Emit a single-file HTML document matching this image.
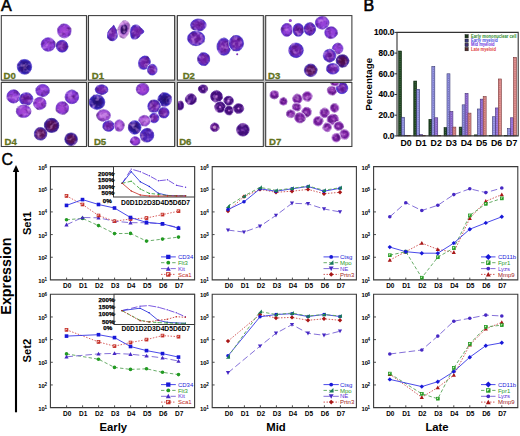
<!DOCTYPE html><html><head><meta charset="utf-8"><style>html,body{margin:0;padding:0;background:#fff;}svg{display:block;}text{font-family:"Liberation Sans",sans-serif;}</style></head><body>
<svg width="520" height="436" viewBox="0 0 520 436">
<rect width="520" height="436" fill="#fff"/>
<defs>
<radialGradient id="g_navy" cx="50%" cy="50%" r="50%">
<stop offset="0" stop-color="#240e68"/>
<stop offset="0.5" stop-color="#2a168a"/>
<stop offset="0.8" stop-color="#3020a6"/>
<stop offset="1" stop-color="#4232c4"/>
</radialGradient>
<radialGradient id="g_blue" cx="50%" cy="50%" r="50%">
<stop offset="0" stop-color="#4a1ca8"/>
<stop offset="0.6" stop-color="#4e24bc"/>
<stop offset="1" stop-color="#4a2ac4"/>
</radialGradient>
<radialGradient id="g_violet" cx="50%" cy="50%" r="50%">
<stop offset="0" stop-color="#6a1c9e"/>
<stop offset="0.55" stop-color="#7428b2"/>
<stop offset="0.85" stop-color="#5e2abe"/>
<stop offset="1" stop-color="#4a2cc6"/>
</radialGradient>
<radialGradient id="g_purple" cx="50%" cy="50%" r="50%">
<stop offset="0" stop-color="#9c44da"/>
<stop offset="0.6" stop-color="#9040d8"/>
<stop offset="0.85" stop-color="#7a34d0"/>
<stop offset="1" stop-color="#6a30cc"/>
</radialGradient>
<radialGradient id="g_magenta" cx="50%" cy="50%" r="50%">
<stop offset="0" stop-color="#a848d6"/>
<stop offset="0.6" stop-color="#9a3ed4"/>
<stop offset="0.85" stop-color="#8436cc"/>
<stop offset="1" stop-color="#7a3ac8"/>
</radialGradient>
<radialGradient id="g_pink" cx="50%" cy="50%" r="50%">
<stop offset="0" stop-color="#c888e6"/>
<stop offset="0.5" stop-color="#b462dc"/>
<stop offset="0.85" stop-color="#9848d0"/>
<stop offset="1" stop-color="#9a60d4"/>
</radialGradient>
<radialGradient id="g_maroon" cx="50%" cy="50%" r="50%">
<stop offset="0" stop-color="#4a0c40"/>
<stop offset="0.55" stop-color="#56125a"/>
<stop offset="0.85" stop-color="#40188a"/>
<stop offset="1" stop-color="#3a28b0"/>
</radialGradient>
<radialGradient id="g_dmaroon" cx="50%" cy="50%" r="50%">
<stop offset="0" stop-color="#5a1450"/>
<stop offset="0.6" stop-color="#5e1862"/>
<stop offset="0.88" stop-color="#4a2094"/>
<stop offset="1" stop-color="#4a38b8"/>
</radialGradient>
<radialGradient id="g_ring" cx="50%" cy="50%" r="50%">
<stop offset="0" stop-color="#e8b0ea"/>
<stop offset="0.14" stop-color="#b060d0"/>
<stop offset="0.32" stop-color="#4a1080"/>
<stop offset="0.8" stop-color="#420e7c"/>
<stop offset="1" stop-color="#5a2098"/>
</radialGradient>
<radialGradient id="g_dpurple" cx="50%" cy="50%" r="50%">
<stop offset="0" stop-color="#6a2aa8"/>
<stop offset="0.4" stop-color="#4a1286"/>
<stop offset="0.85" stop-color="#3e0e78"/>
<stop offset="1" stop-color="#5a2298"/>
</radialGradient>
<radialGradient id="g_donut" cx="50%" cy="50%" r="50%">
<stop offset="0" stop-color="#f4d8f4"/>
<stop offset="0.3" stop-color="#e0a0e0"/>
<stop offset="0.5" stop-color="#6a1890"/>
<stop offset="0.85" stop-color="#4a1080"/>
<stop offset="1" stop-color="#8040b0"/>
</radialGradient>
<radialGradient id="g_d7" cx="50%" cy="50%" r="50%">
<stop offset="0" stop-color="#b868d0"/>
<stop offset="0.25" stop-color="#8e2cac"/>
<stop offset="0.65" stop-color="#6c1a98"/>
<stop offset="0.88" stop-color="#8a34ac"/>
<stop offset="1" stop-color="#b878d4"/>
</radialGradient>
<radialGradient id="g_ring2" cx="50%" cy="50%" r="50%">
<stop offset="0" stop-color="#d89ee2"/>
<stop offset="0.3" stop-color="#9a40b8"/>
<stop offset="0.6" stop-color="#7a2098"/>
<stop offset="0.88" stop-color="#8a3aac"/>
<stop offset="1" stop-color="#b070cc"/>
</radialGradient>
<radialGradient id="g_palepk" cx="50%" cy="50%" r="50%">
<stop offset="0" stop-color="#2a0a50"/>
<stop offset="0.5" stop-color="#381270"/>
<stop offset="0.62" stop-color="#9a58c4"/>
<stop offset="0.78" stop-color="#d090e0"/>
<stop offset="1" stop-color="#d8a8ea"/>
</radialGradient>
<filter id="tex" x="0" y="0" width="1" height="1" color-interpolation-filters="sRGB"><feTurbulence type="fractalNoise" baseFrequency="0.22" numOctaves="2" seed="7" result="n"/><feColorMatrix in="n" type="matrix" values="0 0 0 0 0.92  0 0 0 0 0.70  0 0 0 0 0.98  1.6 0 0 0 -0.78" result="lt"/><feColorMatrix in="n" type="matrix" values="0 0 0 0 0.25  0 0 0 0 0.03  0 0 0 0 0.40  0 1.6 0 0 -0.78" result="dk"/><feComposite in="lt" in2="SourceAlpha" operator="in" result="lt2"/><feComposite in="dk" in2="SourceAlpha" operator="in" result="dk2"/><feMerge><feMergeNode in="SourceGraphic"/><feMergeNode in="dk2"/><feMergeNode in="lt2"/></feMerge></filter>
</defs>
<text x="1.0" y="11" font-size="16" stroke="#000" stroke-width="0.6" font-family="Liberation Sans, sans-serif">A</text>
<rect x="1.3" y="15.6" width="350.6" height="130.9" fill="#c4c4c4"/>
<svg x="1.3" y="15.6" width="85.15" height="64.5" viewBox="1.3 15.6 85.15 64.5" overflow="hidden">
<rect x="1.3" y="15.6" width="85.15" height="64.5" fill="#fff"/>
<g filter="url(#tex)">
<ellipse cx="24.5" cy="66.8" rx="7.95" ry="8.15" fill="#fbf8ff"/>
<ellipse cx="24.5" cy="66.8" rx="7.15" ry="7.35" fill="url(#g_navy)" stroke="#3a2cc8" stroke-width="0.8" stroke-opacity="0.85"/>
<ellipse cx="48.2" cy="44.5" rx="7.75" ry="7.55" fill="#fbf8ff"/>
<ellipse cx="48.2" cy="44.5" rx="6.95" ry="6.75" fill="url(#g_purple)" stroke="#5a2cc4" stroke-width="0.8" stroke-opacity="0.85"/>
<ellipse cx="62.1" cy="46.2" rx="6.55" ry="6.75" fill="#fbf8ff"/>
<ellipse cx="62.1" cy="46.2" rx="5.75" ry="5.95" fill="url(#g_violet)" stroke="#3e2ccc" stroke-width="0.8" stroke-opacity="0.85"/>
<ellipse cx="64.3" cy="30.9" rx="7.55" ry="7.75" fill="#fbf8ff"/>
<ellipse cx="64.3" cy="30.9" rx="6.75" ry="6.95" fill="url(#g_magenta)" stroke="#6e34c8" stroke-width="0.8" stroke-opacity="0.85"/>
</g>
</svg>
<rect x="1.3" y="15.6" width="85.15" height="64.5" fill="none" stroke="#3c3c3c" stroke-width="1.05"/>
<text x="3.6" y="78.7" font-size="9.6" font-weight="bold" fill="#62721c" stroke="#62721c" stroke-width="0.3" font-family="Liberation Sans, sans-serif">D0</text>
<svg x="88.5" y="15.6" width="86.1" height="64.5" viewBox="88.5 15.6 86.1 64.5" overflow="hidden">
<rect x="88.5" y="15.6" width="86.1" height="64.5" fill="#fff"/>
<g filter="url(#tex)">
<path d="M113.7 25.3 C116 29 117.6 32 117.4 35.5 C117.1 39.5 114.2 40.9 112.1 40.7 C109 40.4 107.1 38 107.2 35 C107.4 31.5 111 28 113.7 25.3 Z" fill="#fbf8ff" stroke="#fbf8ff" stroke-width="1.1"/>
<path d="M113.7 25.3 C116 29 117.6 32 117.4 35.5 C117.1 39.5 114.2 40.9 112.1 40.7 C109 40.4 107.1 38 107.2 35 C107.4 31.5 111 28 113.7 25.3 Z" fill="url(#g_violet)" stroke="#3e2ccc" stroke-width="0.8" stroke-opacity="0.85"/>
<ellipse cx="124.0" cy="29.3" rx="6.55" ry="9.450000000000001" fill="#fbf8ff" transform="rotate(12 124.0 29.3)"/>
<ellipse cx="124.0" cy="29.3" rx="5.75" ry="8.65" fill="url(#g_palepk)" stroke="#c898e0" stroke-width="0.8" stroke-opacity="0.85" transform="rotate(12 124.0 29.3)"/>
<path d="M131 28 C133 24.3 138 24 140 27 C141.2 29 143.8 29.4 143.8 31.6 C143.8 33.6 141.2 33.6 140.2 35.2 C139 38.6 134 39.8 132 38.6 C130.3 37 130.3 31 131 28 Z" fill="#fbf8ff" stroke="#fbf8ff" stroke-width="1.1"/>
<path d="M131 28 C133 24.3 138 24 140 27 C141.2 29 143.8 29.4 143.8 31.6 C143.8 33.6 141.2 33.6 140.2 35.2 C139 38.6 134 39.8 132 38.6 C130.3 37 130.3 31 131 28 Z" fill="url(#g_violet)" stroke="#3e2ccc" stroke-width="0.8" stroke-opacity="0.85"/>
<ellipse cx="144.4" cy="62.7" rx="6.55" ry="7.55" fill="#fbf8ff" transform="rotate(20 144.4 62.7)"/>
<ellipse cx="144.4" cy="62.7" rx="5.75" ry="6.75" fill="url(#g_violet)" stroke="#3e2ccc" stroke-width="0.8" stroke-opacity="0.85" transform="rotate(20 144.4 62.7)"/>
<ellipse cx="152.3" cy="69.7" rx="5.55" ry="6.1499999999999995" fill="#fbf8ff"/>
<ellipse cx="152.3" cy="69.7" rx="4.75" ry="5.35" fill="url(#g_violet)" stroke="#3e2ccc" stroke-width="0.8" stroke-opacity="0.85"/>
</g>
</svg>
<rect x="88.5" y="15.6" width="86.1" height="64.5" fill="none" stroke="#3c3c3c" stroke-width="1.05"/>
<text x="91.80000000000001" y="78.7" font-size="9.6" font-weight="bold" fill="#62721c" stroke="#62721c" stroke-width="0.3" font-family="Liberation Sans, sans-serif">D1</text>
<svg x="177.4" y="15.6" width="85.9" height="64.5" viewBox="177.4 15.6 85.9 64.5" overflow="hidden">
<rect x="177.4" y="15.6" width="85.9" height="64.5" fill="#fff"/>
<g filter="url(#tex)">
<ellipse cx="198.4" cy="25.0" rx="8.55" ry="6.75" fill="#fbf8ff"/>
<ellipse cx="198.4" cy="25.0" rx="7.75" ry="5.95" fill="url(#g_violet)" stroke="#3e2ccc" stroke-width="0.8" stroke-opacity="0.85"/>
<ellipse cx="196.1" cy="38.4" rx="9.350000000000001" ry="7.95" fill="#fbf8ff"/>
<ellipse cx="196.1" cy="38.4" rx="8.55" ry="7.15" fill="url(#g_violet)" stroke="#3e2ccc" stroke-width="0.8" stroke-opacity="0.85"/>
<ellipse cx="203.7" cy="59.1" rx="6.75" ry="7.25" fill="#fbf8ff"/>
<ellipse cx="203.7" cy="59.1" rx="5.95" ry="6.45" fill="url(#g_violet)" stroke="#3e2ccc" stroke-width="0.8" stroke-opacity="0.85"/>
<ellipse cx="223.9" cy="46.7" rx="7.55" ry="9.350000000000001" fill="#fbf8ff"/>
<ellipse cx="223.9" cy="46.7" rx="6.75" ry="8.55" fill="url(#g_violet)" stroke="#3e2ccc" stroke-width="0.8" stroke-opacity="0.85"/>
<ellipse cx="236.3" cy="43.2" rx="7.95" ry="8.55" fill="#fbf8ff"/>
<ellipse cx="236.3" cy="43.2" rx="7.15" ry="7.75" fill="url(#g_violet)" stroke="#3e2ccc" stroke-width="0.8" stroke-opacity="0.85"/>
<ellipse cx="237.2" cy="54.3" rx="1.0" ry="1.0" fill="url(#g_magenta)"/>
</g>
</svg>
<rect x="177.4" y="15.6" width="85.9" height="64.5" fill="none" stroke="#3c3c3c" stroke-width="1.05"/>
<text x="182.70000000000002" y="78.6" font-size="9.6" font-weight="bold" fill="#62721c" stroke="#62721c" stroke-width="0.3" font-family="Liberation Sans, sans-serif">D2</text>
<svg x="265.7" y="15.6" width="86.19999999999999" height="64.5" viewBox="265.7 15.6 86.19999999999999 64.5" overflow="hidden">
<rect x="265.7" y="15.6" width="86.19999999999999" height="64.5" fill="#fff"/>
<g filter="url(#tex)">
<ellipse cx="286.8" cy="29.9" rx="6.35" ry="7.25" fill="#fbf8ff"/>
<ellipse cx="286.8" cy="29.9" rx="5.55" ry="6.45" fill="url(#g_purple)" stroke="#5a2cc4" stroke-width="0.8" stroke-opacity="0.85"/>
<ellipse cx="298.3" cy="29.9" rx="6.1499999999999995" ry="7.25" fill="#fbf8ff"/>
<ellipse cx="298.3" cy="29.9" rx="5.35" ry="6.45" fill="url(#g_violet)" stroke="#3e2ccc" stroke-width="0.8" stroke-opacity="0.85"/>
<ellipse cx="309.8" cy="29.0" rx="6.55" ry="7.05" fill="#fbf8ff"/>
<ellipse cx="309.8" cy="29.0" rx="5.75" ry="6.25" fill="url(#g_violet)" stroke="#3e2ccc" stroke-width="0.8" stroke-opacity="0.85"/>
<ellipse cx="322.2" cy="22.8" rx="7.55" ry="7.05" fill="#fbf8ff"/>
<ellipse cx="322.2" cy="22.8" rx="6.75" ry="6.25" fill="url(#g_purple)" stroke="#5a2cc4" stroke-width="0.8" stroke-opacity="0.85"/>
<ellipse cx="331.0" cy="32.6" rx="7.05" ry="6.55" fill="#fbf8ff"/>
<ellipse cx="331.0" cy="32.6" rx="6.25" ry="5.75" fill="url(#g_purple)" stroke="#5a2cc4" stroke-width="0.8" stroke-opacity="0.85"/>
<ellipse cx="296.0" cy="50.3" rx="8.05" ry="8.05" fill="#fbf8ff"/>
<ellipse cx="296.0" cy="50.3" rx="7.25" ry="7.25" fill="url(#g_violet)" stroke="#3e2ccc" stroke-width="0.8" stroke-opacity="0.85"/>
<ellipse cx="337.7" cy="48.5" rx="6.05" ry="6.05" fill="#fbf8ff"/>
<ellipse cx="337.7" cy="48.5" rx="5.25" ry="5.25" fill="url(#g_purple)" stroke="#5a2cc4" stroke-width="0.8" stroke-opacity="0.85"/>
<ellipse cx="329.6" cy="55.6" rx="7.05" ry="7.05" fill="#fbf8ff"/>
<ellipse cx="329.6" cy="55.6" rx="6.25" ry="6.25" fill="url(#g_violet)" stroke="#3e2ccc" stroke-width="0.8" stroke-opacity="0.85"/>
<ellipse cx="342.5" cy="60.9" rx="7.05" ry="7.05" fill="#fbf8ff"/>
<ellipse cx="342.5" cy="60.9" rx="6.25" ry="6.25" fill="url(#g_maroon)" stroke="#30208e" stroke-width="0.8" stroke-opacity="0.85"/>
<ellipse cx="332.8" cy="68.8" rx="7.05" ry="6.05" fill="#fbf8ff"/>
<ellipse cx="332.8" cy="68.8" rx="6.25" ry="5.25" fill="url(#g_violet)" stroke="#3e2ccc" stroke-width="0.8" stroke-opacity="0.85"/>
<ellipse cx="310.7" cy="70.3" rx="7.05" ry="7.05" fill="#fbf8ff"/>
<ellipse cx="310.7" cy="70.3" rx="6.25" ry="6.25" fill="url(#g_dmaroon)" stroke="#3a26a8" stroke-width="0.8" stroke-opacity="0.85"/>
<ellipse cx="290.3" cy="20.5" rx="1.5" ry="1.5" fill="url(#g_magenta)"/>
</g>
</svg>
<rect x="265.7" y="15.6" width="86.19999999999999" height="64.5" fill="none" stroke="#3c3c3c" stroke-width="1.05"/>
<text x="268.09999999999997" y="78.6" font-size="9.6" font-weight="bold" fill="#62721c" stroke="#62721c" stroke-width="0.3" font-family="Liberation Sans, sans-serif">D3</text>
<svg x="1.3" y="82.5" width="85.15" height="64.0" viewBox="1.3 82.5 85.15 64.0" overflow="hidden">
<rect x="1.3" y="82.5" width="85.15" height="64.0" fill="#fff"/>
<g filter="url(#tex)">
<ellipse cx="13.5" cy="96.4" rx="7.35" ry="7.35" fill="#fbf8ff"/>
<ellipse cx="13.5" cy="96.4" rx="6.55" ry="6.55" fill="url(#g_purple)" stroke="#5a2cc4" stroke-width="0.8" stroke-opacity="0.85"/>
<ellipse cx="26.2" cy="99.0" rx="7.55" ry="7.05" fill="#fbf8ff"/>
<ellipse cx="26.2" cy="99.0" rx="6.75" ry="6.25" fill="url(#g_violet)" stroke="#3e2ccc" stroke-width="0.8" stroke-opacity="0.85"/>
<ellipse cx="23.7" cy="111.3" rx="8.05" ry="7.05" fill="#fbf8ff"/>
<ellipse cx="23.7" cy="111.3" rx="7.25" ry="6.25" fill="url(#g_magenta)" stroke="#6e34c8" stroke-width="0.8" stroke-opacity="0.85"/>
<ellipse cx="42.6" cy="90.5" rx="7.55" ry="6.85" fill="#fbf8ff"/>
<ellipse cx="42.6" cy="90.5" rx="6.75" ry="6.05" fill="url(#g_purple)" stroke="#5a2cc4" stroke-width="0.8" stroke-opacity="0.85"/>
<ellipse cx="39.8" cy="103.4" rx="7.05" ry="6.85" fill="#fbf8ff"/>
<ellipse cx="39.8" cy="103.4" rx="6.25" ry="6.05" fill="url(#g_magenta)" stroke="#6e34c8" stroke-width="0.8" stroke-opacity="0.85"/>
<ellipse cx="71.9" cy="96.9" rx="7.55" ry="7.55" fill="#fbf8ff"/>
<ellipse cx="71.9" cy="96.9" rx="6.75" ry="6.75" fill="url(#g_purple)" stroke="#5a2cc4" stroke-width="0.8" stroke-opacity="0.85"/>
<ellipse cx="62.3" cy="107.9" rx="7.05" ry="7.05" fill="#fbf8ff"/>
<ellipse cx="62.3" cy="107.9" rx="6.25" ry="6.25" fill="url(#g_magenta)" stroke="#6e34c8" stroke-width="0.8" stroke-opacity="0.85"/>
<ellipse cx="51.6" cy="125.4" rx="8.05" ry="7.85" fill="#fbf8ff"/>
<ellipse cx="51.6" cy="125.4" rx="7.25" ry="7.05" fill="url(#g_maroon)" stroke="#30208e" stroke-width="0.8" stroke-opacity="0.85"/>
<ellipse cx="40.6" cy="133.8" rx="7.05" ry="7.05" fill="#fbf8ff"/>
<ellipse cx="40.6" cy="133.8" rx="6.25" ry="6.25" fill="url(#g_dmaroon)" stroke="#3a26a8" stroke-width="0.8" stroke-opacity="0.85"/>
<ellipse cx="71.1" cy="139.2" rx="7.05" ry="7.05" fill="#fbf8ff"/>
<ellipse cx="71.1" cy="139.2" rx="6.25" ry="6.25" fill="url(#g_maroon)" stroke="#30208e" stroke-width="0.8" stroke-opacity="0.85"/>
</g>
</svg>
<rect x="1.3" y="82.5" width="85.15" height="64.0" fill="none" stroke="#3c3c3c" stroke-width="1.05"/>
<text x="4.5" y="144.8" font-size="9.6" font-weight="bold" fill="#62721c" stroke="#62721c" stroke-width="0.3" font-family="Liberation Sans, sans-serif">D4</text>
<svg x="88.5" y="82.5" width="86.1" height="64.0" viewBox="88.5 82.5 86.1 64.0" overflow="hidden">
<rect x="88.5" y="82.5" width="86.1" height="64.0" fill="#fff"/>
<g filter="url(#tex)">
<ellipse cx="101.6" cy="89.7" rx="7.05" ry="5.55" fill="#fbf8ff"/>
<ellipse cx="101.6" cy="89.7" rx="6.25" ry="4.75" fill="url(#g_violet)" stroke="#3e2ccc" stroke-width="0.8" stroke-opacity="0.85"/>
<ellipse cx="97.0" cy="102.1" rx="8.55" ry="8.05" fill="#fbf8ff"/>
<ellipse cx="97.0" cy="102.1" rx="7.75" ry="7.25" fill="url(#g_navy)" stroke="#3a2cc8" stroke-width="0.8" stroke-opacity="0.85"/>
<ellipse cx="103.7" cy="115.4" rx="7.55" ry="6.55" fill="#fbf8ff"/>
<ellipse cx="103.7" cy="115.4" rx="6.75" ry="5.75" fill="url(#g_pink)" stroke="#8a50cc" stroke-width="0.8" stroke-opacity="0.85"/>
<ellipse cx="108.6" cy="126.0" rx="6.55" ry="6.05" fill="#fbf8ff"/>
<ellipse cx="108.6" cy="126.0" rx="5.75" ry="5.25" fill="url(#g_violet)" stroke="#3e2ccc" stroke-width="0.8" stroke-opacity="0.85"/>
<ellipse cx="119.3" cy="125.6" rx="5.55" ry="6.55" fill="#fbf8ff"/>
<ellipse cx="119.3" cy="125.6" rx="4.75" ry="5.75" fill="url(#g_pink)" stroke="#8a50cc" stroke-width="0.8" stroke-opacity="0.85"/>
<ellipse cx="142.6" cy="89.2" rx="7.05" ry="6.55" fill="#fbf8ff"/>
<ellipse cx="142.6" cy="89.2" rx="6.25" ry="5.75" fill="url(#g_magenta)" stroke="#6e34c8" stroke-width="0.8" stroke-opacity="0.85"/>
<ellipse cx="164.7" cy="99.5" rx="7.55" ry="7.55" fill="#fbf8ff"/>
<ellipse cx="164.7" cy="99.5" rx="6.75" ry="6.75" fill="url(#g_navy)" stroke="#3a2cc8" stroke-width="0.8" stroke-opacity="0.85"/>
<ellipse cx="154.1" cy="106.2" rx="7.05" ry="7.05" fill="#fbf8ff"/>
<ellipse cx="154.1" cy="106.2" rx="6.25" ry="6.25" fill="url(#g_violet)" stroke="#3e2ccc" stroke-width="0.8" stroke-opacity="0.85"/>
<ellipse cx="163.8" cy="112.7" rx="6.05" ry="6.05" fill="#fbf8ff"/>
<ellipse cx="163.8" cy="112.7" rx="5.25" ry="5.25" fill="url(#g_violet)" stroke="#3e2ccc" stroke-width="0.8" stroke-opacity="0.85"/>
<ellipse cx="154.1" cy="118.0" rx="5.55" ry="5.55" fill="#fbf8ff"/>
<ellipse cx="154.1" cy="118.0" rx="4.75" ry="4.75" fill="url(#g_violet)" stroke="#3e2ccc" stroke-width="0.8" stroke-opacity="0.85"/>
<ellipse cx="144.4" cy="120.7" rx="6.55" ry="6.05" fill="#fbf8ff"/>
<ellipse cx="144.4" cy="120.7" rx="5.75" ry="5.25" fill="url(#g_pink)" stroke="#8a50cc" stroke-width="0.8" stroke-opacity="0.85"/>
<ellipse cx="134.7" cy="127.4" rx="7.05" ry="7.55" fill="#fbf8ff"/>
<ellipse cx="134.7" cy="127.4" rx="6.25" ry="6.75" fill="url(#g_navy)" stroke="#3a2cc8" stroke-width="0.8" stroke-opacity="0.85"/>
<ellipse cx="147.0" cy="135.2" rx="7.55" ry="7.55" fill="#fbf8ff"/>
<ellipse cx="147.0" cy="135.2" rx="6.75" ry="6.75" fill="url(#g_blue)" stroke="#4030c8" stroke-width="0.8" stroke-opacity="0.85"/>
<ellipse cx="135.2" cy="141.0" rx="5.55" ry="5.05" fill="#fbf8ff"/>
<ellipse cx="135.2" cy="141.0" rx="4.75" ry="4.25" fill="url(#g_magenta)" stroke="#6e34c8" stroke-width="0.8" stroke-opacity="0.85"/>
</g>
</svg>
<rect x="88.5" y="82.5" width="86.1" height="64.0" fill="none" stroke="#3c3c3c" stroke-width="1.05"/>
<text x="93.9" y="145.2" font-size="9.6" font-weight="bold" fill="#62721c" stroke="#62721c" stroke-width="0.3" font-family="Liberation Sans, sans-serif">D5</text>
<svg x="177.4" y="82.5" width="85.9" height="64.0" viewBox="177.4 82.5 85.9 64.0" overflow="hidden">
<rect x="177.4" y="82.5" width="85.9" height="64.0" fill="#fff"/>
<g filter="url(#tex)">
<ellipse cx="203.0" cy="89.0" rx="5.25" ry="4.85" fill="#fbf8ff"/>
<ellipse cx="203.0" cy="89.0" rx="4.45" ry="4.05" fill="url(#g_ring)" stroke="#4a1890" stroke-width="0.8" stroke-opacity="0.85"/>
<ellipse cx="190.9" cy="99.2" rx="6.25" ry="6.05" fill="#fbf8ff" transform="rotate(-20 190.9 99.2)"/>
<ellipse cx="190.9" cy="99.2" rx="5.45" ry="5.25" fill="url(#g_dpurple)" stroke="#4a1890" stroke-width="0.8" stroke-opacity="0.85" transform="rotate(-20 190.9 99.2)"/>
<ellipse cx="180.3" cy="105.6" rx="4.05" ry="5.05" fill="#fbf8ff"/>
<ellipse cx="180.3" cy="105.6" rx="3.25" ry="4.25" fill="url(#g_dpurple)" stroke="#4a1890" stroke-width="0.8" stroke-opacity="0.85"/>
<ellipse cx="216.5" cy="96.4" rx="6.6499999999999995" ry="6.55" fill="#fbf8ff"/>
<ellipse cx="216.5" cy="96.4" rx="5.85" ry="5.75" fill="url(#g_ring)" stroke="#4a1890" stroke-width="0.8" stroke-opacity="0.85"/>
<ellipse cx="228.6" cy="100.7" rx="5.55" ry="5.25" fill="#fbf8ff"/>
<ellipse cx="228.6" cy="100.7" rx="4.75" ry="4.45" fill="url(#g_ring)" stroke="#4a1890" stroke-width="0.8" stroke-opacity="0.85"/>
<ellipse cx="220.1" cy="107.1" rx="6.05" ry="6.05" fill="#fbf8ff"/>
<ellipse cx="220.1" cy="107.1" rx="5.25" ry="5.25" fill="url(#g_ring)" stroke="#4a1890" stroke-width="0.8" stroke-opacity="0.85"/>
<ellipse cx="228.9" cy="110.6" rx="5.05" ry="5.05" fill="#fbf8ff"/>
<ellipse cx="228.9" cy="110.6" rx="4.25" ry="4.25" fill="url(#g_ring)" stroke="#4a1890" stroke-width="0.8" stroke-opacity="0.85"/>
<ellipse cx="238.6" cy="108.5" rx="5.85" ry="5.55" fill="#fbf8ff"/>
<ellipse cx="238.6" cy="108.5" rx="5.05" ry="4.75" fill="url(#g_ring)" stroke="#4a1890" stroke-width="0.8" stroke-opacity="0.85"/>
<ellipse cx="214.7" cy="127.3" rx="5.05" ry="5.05" fill="#fbf8ff"/>
<ellipse cx="214.7" cy="127.3" rx="4.25" ry="4.25" fill="url(#g_donut)" stroke="#5a2098" stroke-width="0.8" stroke-opacity="0.85"/>
<ellipse cx="242.9" cy="129.8" rx="7.05" ry="7.05" fill="#fbf8ff"/>
<ellipse cx="242.9" cy="129.8" rx="6.25" ry="6.25" fill="url(#g_dpurple)" stroke="#4a1890" stroke-width="0.8" stroke-opacity="0.85"/>
</g>
</svg>
<rect x="177.4" y="82.5" width="85.9" height="64.0" fill="none" stroke="#3c3c3c" stroke-width="1.05"/>
<text x="179.20000000000002" y="145.2" font-size="9.6" font-weight="bold" fill="#62721c" stroke="#62721c" stroke-width="0.3" font-family="Liberation Sans, sans-serif">D6</text>
<svg x="265.7" y="82.5" width="86.19999999999999" height="64.0" viewBox="265.7 82.5 86.19999999999999 64.0" overflow="hidden">
<rect x="265.7" y="82.5" width="86.19999999999999" height="64.0" fill="#fff"/>
<g filter="url(#tex)">
<ellipse cx="274.3" cy="94.7" rx="5.05" ry="4.75" fill="#fbf8ff"/>
<ellipse cx="274.3" cy="94.7" rx="4.25" ry="3.95" fill="url(#g_d7)" stroke="#a466c8" stroke-width="0.8" stroke-opacity="0.85"/>
<ellipse cx="283.4" cy="101.4" rx="4.55" ry="4.55" fill="#fbf8ff"/>
<ellipse cx="283.4" cy="101.4" rx="3.75" ry="3.75" fill="url(#g_d7)" stroke="#a466c8" stroke-width="0.8" stroke-opacity="0.85"/>
<ellipse cx="297.4" cy="98.9" rx="5.55" ry="5.55" fill="#fbf8ff"/>
<ellipse cx="297.4" cy="98.9" rx="4.75" ry="4.75" fill="url(#g_d7)" stroke="#a466c8" stroke-width="0.8" stroke-opacity="0.85"/>
<ellipse cx="307.3" cy="96.4" rx="5.55" ry="5.55" fill="#fbf8ff"/>
<ellipse cx="307.3" cy="96.4" rx="4.75" ry="4.75" fill="url(#g_d7)" stroke="#a466c8" stroke-width="0.8" stroke-opacity="0.85"/>
<ellipse cx="296.6" cy="107.1" rx="5.05" ry="4.55" fill="#fbf8ff"/>
<ellipse cx="296.6" cy="107.1" rx="4.25" ry="3.75" fill="url(#g_d7)" stroke="#a466c8" stroke-width="0.8" stroke-opacity="0.85"/>
<ellipse cx="290.8" cy="113.8" rx="5.05" ry="4.55" fill="#fbf8ff"/>
<ellipse cx="290.8" cy="113.8" rx="4.25" ry="3.75" fill="url(#g_d7)" stroke="#a466c8" stroke-width="0.8" stroke-opacity="0.85"/>
<ellipse cx="306.5" cy="112.1" rx="5.55" ry="5.55" fill="#fbf8ff"/>
<ellipse cx="306.5" cy="112.1" rx="4.75" ry="4.75" fill="url(#g_d7)" stroke="#a466c8" stroke-width="0.8" stroke-opacity="0.85"/>
<ellipse cx="299.9" cy="117.9" rx="6.05" ry="5.85" fill="#fbf8ff"/>
<ellipse cx="299.9" cy="117.9" rx="5.25" ry="5.05" fill="url(#g_d7)" stroke="#a466c8" stroke-width="0.8" stroke-opacity="0.85"/>
<ellipse cx="332.1" cy="90.6" rx="5.55" ry="5.25" fill="#fbf8ff"/>
<ellipse cx="332.1" cy="90.6" rx="4.75" ry="4.45" fill="url(#g_d7)" stroke="#a466c8" stroke-width="0.8" stroke-opacity="0.85"/>
<ellipse cx="342.0" cy="88.1" rx="6.55" ry="6.35" fill="#fbf8ff"/>
<ellipse cx="342.0" cy="88.1" rx="5.75" ry="5.55" fill="url(#g_violet)" stroke="#3e2ccc" stroke-width="0.8" stroke-opacity="0.85"/>
<ellipse cx="334.6" cy="108.0" rx="5.05" ry="5.05" fill="#fbf8ff"/>
<ellipse cx="334.6" cy="108.0" rx="4.25" ry="4.25" fill="url(#g_d7)" stroke="#a466c8" stroke-width="0.8" stroke-opacity="0.85"/>
<ellipse cx="324.7" cy="112.9" rx="5.55" ry="5.55" fill="#fbf8ff"/>
<ellipse cx="324.7" cy="112.9" rx="4.75" ry="4.75" fill="url(#g_d7)" stroke="#a466c8" stroke-width="0.8" stroke-opacity="0.85"/>
<ellipse cx="332.9" cy="119.5" rx="6.55" ry="6.05" fill="#fbf8ff"/>
<ellipse cx="332.9" cy="119.5" rx="5.75" ry="5.25" fill="url(#g_d7)" stroke="#a466c8" stroke-width="0.8" stroke-opacity="0.85"/>
<ellipse cx="318.1" cy="121.2" rx="5.55" ry="5.55" fill="#fbf8ff"/>
<ellipse cx="318.1" cy="121.2" rx="4.75" ry="4.75" fill="url(#g_d7)" stroke="#a466c8" stroke-width="0.8" stroke-opacity="0.85"/>
<ellipse cx="327.2" cy="127.3" rx="5.05" ry="5.05" fill="#fbf8ff"/>
<ellipse cx="327.2" cy="127.3" rx="4.25" ry="4.25" fill="url(#g_d7)" stroke="#a466c8" stroke-width="0.8" stroke-opacity="0.85"/>
<ellipse cx="338.7" cy="126.1" rx="5.55" ry="5.05" fill="#fbf8ff"/>
<ellipse cx="338.7" cy="126.1" rx="4.75" ry="4.25" fill="url(#g_d7)" stroke="#a466c8" stroke-width="0.8" stroke-opacity="0.85"/>
<ellipse cx="344.5" cy="134.4" rx="5.55" ry="5.55" fill="#fbf8ff"/>
<ellipse cx="344.5" cy="134.4" rx="4.75" ry="4.75" fill="url(#g_d7)" stroke="#a466c8" stroke-width="0.8" stroke-opacity="0.85"/>
<ellipse cx="336.2" cy="137.7" rx="5.05" ry="5.05" fill="#fbf8ff"/>
<ellipse cx="336.2" cy="137.7" rx="4.25" ry="4.25" fill="url(#g_d7)" stroke="#a466c8" stroke-width="0.8" stroke-opacity="0.85"/>
<ellipse cx="335.0" cy="83.5" rx="4.55" ry="3.05" fill="#fbf8ff"/>
<ellipse cx="335.0" cy="83.5" rx="3.75" ry="2.25" fill="url(#g_d7)" stroke="#a466c8" stroke-width="0.8" stroke-opacity="0.85"/>
</g>
</svg>
<rect x="265.7" y="82.5" width="86.19999999999999" height="64.0" fill="none" stroke="#3c3c3c" stroke-width="1.05"/>
<text x="269.0" y="145.2" font-size="9.6" font-weight="bold" fill="#62721c" stroke="#62721c" stroke-width="0.3" font-family="Liberation Sans, sans-serif">D7</text>
<text x="363.4" y="11.1" font-size="16" stroke="#000" stroke-width="0.6" font-family="Liberation Sans, sans-serif">B</text>
<rect x="398.60" y="51.03" width="2.95" height="84.87" fill="#1e4020" stroke="#0e2a12" stroke-width="0.6"/>
<line x1="400.08" y1="52.03" x2="400.08" y2="135.40" stroke="#5a8a5a" stroke-width="0.8" stroke-dasharray="0.7 1.1"/>
<rect x="401.55" y="117.27" width="2.95" height="18.63" fill="#9a9ae8" stroke="#34346e" stroke-width="0.6"/>
<line x1="403.03" y1="118.27" x2="403.03" y2="135.40" stroke="#34346e" stroke-width="0.9" stroke-dasharray="0.6 1.2" opacity="0.6"/>
<rect x="404.50" y="135.28" width="2.95" height="0.62" fill="#a07ae0" stroke="#3e2a70" stroke-width="0.6"/>
<rect x="407.45" y="135.59" width="2.95" height="0.31" fill="#e09090" stroke="#763232" stroke-width="0.6"/>
<rect x="413.75" y="81.05" width="2.95" height="54.85" fill="#1e4020" stroke="#0e2a12" stroke-width="0.6"/>
<line x1="415.23" y1="82.05" x2="415.23" y2="135.40" stroke="#5a8a5a" stroke-width="0.8" stroke-dasharray="0.7 1.1"/>
<rect x="416.70" y="89.33" width="2.95" height="46.57" fill="#9a9ae8" stroke="#34346e" stroke-width="0.6"/>
<line x1="418.18" y1="90.33" x2="418.18" y2="135.40" stroke="#34346e" stroke-width="0.9" stroke-dasharray="0.6 1.2" opacity="0.6"/>
<rect x="419.65" y="134.66" width="2.95" height="1.24" fill="#a07ae0" stroke="#3e2a70" stroke-width="0.6"/>
<rect x="422.60" y="135.49" width="2.95" height="0.41" fill="#e09090" stroke="#763232" stroke-width="0.6"/>
<rect x="428.90" y="119.34" width="2.95" height="16.56" fill="#1e4020" stroke="#0e2a12" stroke-width="0.6"/>
<line x1="430.38" y1="120.34" x2="430.38" y2="135.40" stroke="#5a8a5a" stroke-width="0.8" stroke-dasharray="0.7 1.1"/>
<rect x="431.85" y="66.56" width="2.95" height="69.34" fill="#9a9ae8" stroke="#34346e" stroke-width="0.6"/>
<line x1="433.33" y1="67.56" x2="433.33" y2="135.40" stroke="#34346e" stroke-width="0.9" stroke-dasharray="0.6 1.2" opacity="0.6"/>
<rect x="434.80" y="117.79" width="2.95" height="18.11" fill="#a07ae0" stroke="#3e2a70" stroke-width="0.6"/>
<line x1="436.28" y1="118.79" x2="436.28" y2="135.40" stroke="#3e2a70" stroke-width="0.9" stroke-dasharray="0.6 1.2" opacity="0.6"/>
<rect x="437.75" y="135.38" width="2.95" height="0.52" fill="#e09090" stroke="#763232" stroke-width="0.6"/>
<rect x="444.05" y="127.62" width="2.95" height="8.28" fill="#1e4020" stroke="#0e2a12" stroke-width="0.6"/>
<line x1="445.53" y1="128.62" x2="445.53" y2="135.40" stroke="#5a8a5a" stroke-width="0.8" stroke-dasharray="0.7 1.1"/>
<rect x="447.00" y="73.80" width="2.95" height="62.10" fill="#9a9ae8" stroke="#34346e" stroke-width="0.6"/>
<line x1="448.48" y1="74.80" x2="448.48" y2="135.40" stroke="#34346e" stroke-width="0.9" stroke-dasharray="0.6 1.2" opacity="0.6"/>
<rect x="449.95" y="111.58" width="2.95" height="24.32" fill="#a07ae0" stroke="#3e2a70" stroke-width="0.6"/>
<line x1="451.43" y1="112.58" x2="451.43" y2="135.40" stroke="#3e2a70" stroke-width="0.9" stroke-dasharray="0.6 1.2" opacity="0.6"/>
<rect x="452.90" y="127.10" width="2.95" height="8.80" fill="#e09090" stroke="#763232" stroke-width="0.6"/>
<line x1="454.38" y1="128.10" x2="454.38" y2="135.40" stroke="#763232" stroke-width="0.9" stroke-dasharray="0.6 1.2" opacity="0.6"/>
<rect x="459.20" y="127.10" width="2.95" height="8.80" fill="#1e4020" stroke="#0e2a12" stroke-width="0.6"/>
<line x1="460.68" y1="128.10" x2="460.68" y2="135.40" stroke="#5a8a5a" stroke-width="0.8" stroke-dasharray="0.7 1.1"/>
<rect x="462.15" y="104.85" width="2.95" height="31.05" fill="#9a9ae8" stroke="#34346e" stroke-width="0.6"/>
<line x1="463.63" y1="105.85" x2="463.63" y2="135.40" stroke="#34346e" stroke-width="0.9" stroke-dasharray="0.6 1.2" opacity="0.6"/>
<rect x="465.10" y="93.47" width="2.95" height="42.43" fill="#a07ae0" stroke="#3e2a70" stroke-width="0.6"/>
<line x1="466.58" y1="94.47" x2="466.58" y2="135.40" stroke="#3e2a70" stroke-width="0.9" stroke-dasharray="0.6 1.2" opacity="0.6"/>
<rect x="468.05" y="113.13" width="2.95" height="22.77" fill="#e09090" stroke="#763232" stroke-width="0.6"/>
<line x1="469.53" y1="114.13" x2="469.53" y2="135.40" stroke="#763232" stroke-width="0.9" stroke-dasharray="0.6 1.2" opacity="0.6"/>
<rect x="474.35" y="134.87" width="2.95" height="1.03" fill="#1e4020" stroke="#0e2a12" stroke-width="0.6"/>
<rect x="477.30" y="108.99" width="2.95" height="26.91" fill="#9a9ae8" stroke="#34346e" stroke-width="0.6"/>
<line x1="478.78" y1="109.99" x2="478.78" y2="135.40" stroke="#34346e" stroke-width="0.9" stroke-dasharray="0.6 1.2" opacity="0.6"/>
<rect x="480.25" y="99.16" width="2.95" height="36.74" fill="#a07ae0" stroke="#3e2a70" stroke-width="0.6"/>
<line x1="481.73" y1="100.16" x2="481.73" y2="135.40" stroke="#3e2a70" stroke-width="0.9" stroke-dasharray="0.6 1.2" opacity="0.6"/>
<rect x="483.20" y="96.57" width="2.95" height="39.33" fill="#e09090" stroke="#763232" stroke-width="0.6"/>
<line x1="484.68" y1="97.57" x2="484.68" y2="135.40" stroke="#763232" stroke-width="0.9" stroke-dasharray="0.6 1.2" opacity="0.6"/>
<rect x="489.50" y="135.38" width="2.95" height="0.52" fill="#1e4020" stroke="#0e2a12" stroke-width="0.6"/>
<rect x="492.45" y="116.75" width="2.95" height="19.15" fill="#9a9ae8" stroke="#34346e" stroke-width="0.6"/>
<line x1="493.93" y1="117.75" x2="493.93" y2="135.40" stroke="#34346e" stroke-width="0.9" stroke-dasharray="0.6 1.2" opacity="0.6"/>
<rect x="495.40" y="107.96" width="2.95" height="27.94" fill="#a07ae0" stroke="#3e2a70" stroke-width="0.6"/>
<line x1="496.88" y1="108.96" x2="496.88" y2="135.40" stroke="#3e2a70" stroke-width="0.9" stroke-dasharray="0.6 1.2" opacity="0.6"/>
<rect x="498.35" y="78.98" width="2.95" height="56.92" fill="#e09090" stroke="#763232" stroke-width="0.6"/>
<line x1="499.83" y1="79.98" x2="499.83" y2="135.40" stroke="#763232" stroke-width="0.9" stroke-dasharray="0.6 1.2" opacity="0.6"/>
<rect x="504.65" y="135.49" width="2.95" height="0.41" fill="#1e4020" stroke="#0e2a12" stroke-width="0.6"/>
<rect x="507.60" y="128.66" width="2.95" height="7.24" fill="#9a9ae8" stroke="#34346e" stroke-width="0.6"/>
<line x1="509.08" y1="129.66" x2="509.08" y2="135.40" stroke="#34346e" stroke-width="0.9" stroke-dasharray="0.6 1.2" opacity="0.6"/>
<rect x="510.55" y="117.79" width="2.95" height="18.11" fill="#a07ae0" stroke="#3e2a70" stroke-width="0.6"/>
<line x1="512.02" y1="118.79" x2="512.02" y2="135.40" stroke="#3e2a70" stroke-width="0.9" stroke-dasharray="0.6 1.2" opacity="0.6"/>
<rect x="513.50" y="57.45" width="2.95" height="78.45" fill="#e09090" stroke="#763232" stroke-width="0.6"/>
<line x1="514.98" y1="58.45" x2="514.98" y2="135.40" stroke="#763232" stroke-width="0.9" stroke-dasharray="0.6 1.2" opacity="0.6"/>
<path d="M397 32.4 H518.2 V135.9 H397 Z" fill="none" stroke="#333" stroke-width="1.1"/>
<line x1="394.5" y1="135.90" x2="397" y2="135.90" stroke="#333" stroke-width="1"/>
<text x="394.4" y="138.80" font-size="8.2" font-weight="bold" text-anchor="end" stroke="#000" stroke-width="0.15" font-family="Liberation Sans, sans-serif">0.0</text>
<line x1="394.5" y1="115.20" x2="397" y2="115.20" stroke="#333" stroke-width="1"/>
<text x="394.4" y="118.10" font-size="8.2" font-weight="bold" text-anchor="end" stroke="#000" stroke-width="0.15" font-family="Liberation Sans, sans-serif">20.0</text>
<line x1="394.5" y1="94.50" x2="397" y2="94.50" stroke="#333" stroke-width="1"/>
<text x="394.4" y="97.40" font-size="8.2" font-weight="bold" text-anchor="end" stroke="#000" stroke-width="0.15" font-family="Liberation Sans, sans-serif">40.0</text>
<line x1="394.5" y1="73.80" x2="397" y2="73.80" stroke="#333" stroke-width="1"/>
<text x="394.4" y="76.70" font-size="8.2" font-weight="bold" text-anchor="end" stroke="#000" stroke-width="0.15" font-family="Liberation Sans, sans-serif">60.0</text>
<line x1="394.5" y1="53.10" x2="397" y2="53.10" stroke="#333" stroke-width="1"/>
<text x="394.4" y="56.00" font-size="8.2" font-weight="bold" text-anchor="end" stroke="#000" stroke-width="0.15" font-family="Liberation Sans, sans-serif">80.0</text>
<line x1="394.5" y1="32.40" x2="397" y2="32.40" stroke="#333" stroke-width="1"/>
<text x="394.4" y="35.30" font-size="8.2" font-weight="bold" text-anchor="end" stroke="#000" stroke-width="0.15" font-family="Liberation Sans, sans-serif">100.0</text>
<text x="406.00" y="145.7" font-size="8.8" font-weight="bold" text-anchor="middle" font-family="Liberation Sans, sans-serif">D0</text>
<text x="421.10" y="145.7" font-size="8.8" font-weight="bold" text-anchor="middle" font-family="Liberation Sans, sans-serif">D1</text>
<text x="436.20" y="145.7" font-size="8.8" font-weight="bold" text-anchor="middle" font-family="Liberation Sans, sans-serif">D2</text>
<text x="451.30" y="145.7" font-size="8.8" font-weight="bold" text-anchor="middle" font-family="Liberation Sans, sans-serif">D3</text>
<text x="466.40" y="145.7" font-size="8.8" font-weight="bold" text-anchor="middle" font-family="Liberation Sans, sans-serif">D4</text>
<text x="481.50" y="145.7" font-size="8.8" font-weight="bold" text-anchor="middle" font-family="Liberation Sans, sans-serif">D5</text>
<text x="496.60" y="145.7" font-size="8.8" font-weight="bold" text-anchor="middle" font-family="Liberation Sans, sans-serif">D6</text>
<text x="511.70" y="145.7" font-size="8.8" font-weight="bold" text-anchor="middle" font-family="Liberation Sans, sans-serif">D7</text>
<text transform="translate(372.2 84.3) rotate(-90)" font-size="9.8" font-weight="bold" text-anchor="middle" font-family="Liberation Sans, sans-serif">Percentage</text>
<rect x="465.0" y="34.70" width="3.2" height="3.2" fill="#1a3a1a" stroke="#111" stroke-width="0.5"/>
<text x="471" y="37.80" font-size="4.5" font-weight="bold" fill="#2e8a2a" textLength="45.5" lengthAdjust="spacingAndGlyphs" font-family="Liberation Sans, sans-serif">Early mononuclear cell</text>
<rect x="465.0" y="39.00" width="3.2" height="3.2" fill="#3a3a80" stroke="#111" stroke-width="0.5"/>
<text x="471" y="42.10" font-size="4.5" font-weight="bold" fill="#4a4ae0" textLength="26.8" lengthAdjust="spacingAndGlyphs" font-family="Liberation Sans, sans-serif">Early myeloid</text>
<rect x="465.0" y="43.30" width="3.2" height="3.2" fill="#40307a" stroke="#111" stroke-width="0.5"/>
<text x="471" y="46.40" font-size="4.5" font-weight="bold" fill="#6a34e0" textLength="23.6" lengthAdjust="spacingAndGlyphs" font-family="Liberation Sans, sans-serif">Mid myeloid</text>
<rect x="465.0" y="47.60" width="3.2" height="3.2" fill="#5a2a2a" stroke="#111" stroke-width="0.5"/>
<text x="471" y="50.70" font-size="4.5" font-weight="bold" fill="#e03a3a" textLength="25" lengthAdjust="spacingAndGlyphs" font-family="Liberation Sans, sans-serif">Late myeloid</text>
<text x="1.6" y="164.8" font-size="16" stroke="#000" stroke-width="0.4" font-family="Liberation Sans, sans-serif">C</text>
<line x1="16" y1="170" x2="16" y2="412.3" stroke="#000" stroke-width="2.1"/>
<path d="M16 165 L19.2 172 L12.8 172 Z" fill="#000"/>
<text transform="translate(11.4 276.1) rotate(-90) scale(0.935 1)" font-size="15.3" font-weight="bold" text-anchor="middle" font-family="Liberation Sans, sans-serif">Expression</text>
<text transform="translate(31.2 223.3) rotate(-90)" font-size="11.2" font-weight="bold" text-anchor="middle" font-family="Liberation Sans, sans-serif">Set1</text>
<text transform="translate(30.8 350.6) rotate(-90)" font-size="11.2" font-weight="bold" text-anchor="middle" font-family="Liberation Sans, sans-serif">Set2</text>
<text x="113.3" y="430.6" font-size="11.3" font-weight="bold" text-anchor="middle" font-family="Liberation Sans, sans-serif">Early</text>
<text x="276" y="430.6" font-size="11.3" font-weight="bold" text-anchor="middle" font-family="Liberation Sans, sans-serif">Mid</text>
<text x="437" y="430.6" font-size="11.3" font-weight="bold" text-anchor="middle" font-family="Liberation Sans, sans-serif">Late</text>
<path d="M50.40 166.60 H194.60 V279.90 H50.40 Z" fill="none" stroke="#3a3a3a" stroke-width="1.1"/>
<text x="44.80" y="282.90" font-size="5.9" font-weight="bold" text-anchor="end" font-family="Liberation Sans, sans-serif">10</text>
<text x="44.40" y="281.40" font-size="4.5" font-weight="bold" font-family="Liberation Sans, sans-serif">1</text>
<line x1="50.40" y1="257.24" x2="52.80" y2="257.24" stroke="#3a3a3a" stroke-width="0.9"/>
<text x="44.80" y="260.24" font-size="5.9" font-weight="bold" text-anchor="end" font-family="Liberation Sans, sans-serif">10</text>
<text x="44.40" y="258.74" font-size="4.5" font-weight="bold" font-family="Liberation Sans, sans-serif">2</text>
<line x1="50.40" y1="234.58" x2="52.80" y2="234.58" stroke="#3a3a3a" stroke-width="0.9"/>
<text x="44.80" y="237.58" font-size="5.9" font-weight="bold" text-anchor="end" font-family="Liberation Sans, sans-serif">10</text>
<text x="44.40" y="236.08" font-size="4.5" font-weight="bold" font-family="Liberation Sans, sans-serif">3</text>
<line x1="50.40" y1="211.92" x2="52.80" y2="211.92" stroke="#3a3a3a" stroke-width="0.9"/>
<text x="44.80" y="214.92" font-size="5.9" font-weight="bold" text-anchor="end" font-family="Liberation Sans, sans-serif">10</text>
<text x="44.40" y="213.42" font-size="4.5" font-weight="bold" font-family="Liberation Sans, sans-serif">4</text>
<line x1="50.40" y1="189.26" x2="52.80" y2="189.26" stroke="#3a3a3a" stroke-width="0.9"/>
<text x="44.80" y="192.26" font-size="5.9" font-weight="bold" text-anchor="end" font-family="Liberation Sans, sans-serif">10</text>
<text x="44.40" y="190.76" font-size="4.5" font-weight="bold" font-family="Liberation Sans, sans-serif">5</text>
<text x="44.80" y="169.60" font-size="5.9" font-weight="bold" text-anchor="end" font-family="Liberation Sans, sans-serif">10</text>
<text x="44.40" y="168.10" font-size="4.5" font-weight="bold" font-family="Liberation Sans, sans-serif">6</text>
<line x1="66.60" y1="277.60" x2="66.60" y2="279.90" stroke="#3a3a3a" stroke-width="0.9"/>
<text x="67.10" y="288.10" font-size="6.5" font-weight="bold" text-anchor="middle" font-family="Liberation Sans, sans-serif">D0</text>
<line x1="82.60" y1="277.60" x2="82.60" y2="279.90" stroke="#3a3a3a" stroke-width="0.9"/>
<text x="83.10" y="288.10" font-size="6.5" font-weight="bold" text-anchor="middle" font-family="Liberation Sans, sans-serif">D1</text>
<line x1="98.60" y1="277.60" x2="98.60" y2="279.90" stroke="#3a3a3a" stroke-width="0.9"/>
<text x="99.10" y="288.10" font-size="6.5" font-weight="bold" text-anchor="middle" font-family="Liberation Sans, sans-serif">D2</text>
<line x1="114.60" y1="277.60" x2="114.60" y2="279.90" stroke="#3a3a3a" stroke-width="0.9"/>
<text x="115.10" y="288.10" font-size="6.5" font-weight="bold" text-anchor="middle" font-family="Liberation Sans, sans-serif">D3</text>
<line x1="130.60" y1="277.60" x2="130.60" y2="279.90" stroke="#3a3a3a" stroke-width="0.9"/>
<text x="131.10" y="288.10" font-size="6.5" font-weight="bold" text-anchor="middle" font-family="Liberation Sans, sans-serif">D4</text>
<line x1="146.60" y1="277.60" x2="146.60" y2="279.90" stroke="#3a3a3a" stroke-width="0.9"/>
<text x="147.10" y="288.10" font-size="6.5" font-weight="bold" text-anchor="middle" font-family="Liberation Sans, sans-serif">D5</text>
<line x1="162.60" y1="277.60" x2="162.60" y2="279.90" stroke="#3a3a3a" stroke-width="0.9"/>
<text x="163.10" y="288.10" font-size="6.5" font-weight="bold" text-anchor="middle" font-family="Liberation Sans, sans-serif">D6</text>
<line x1="178.60" y1="277.60" x2="178.60" y2="279.90" stroke="#3a3a3a" stroke-width="0.9"/>
<text x="179.10" y="288.10" font-size="6.5" font-weight="bold" text-anchor="middle" font-family="Liberation Sans, sans-serif">D7</text>
<path d="M212.20 166.60 H356.40 V279.90 H212.20 Z" fill="none" stroke="#3a3a3a" stroke-width="1.1"/>
<text x="206.60" y="282.90" font-size="5.9" font-weight="bold" text-anchor="end" font-family="Liberation Sans, sans-serif">10</text>
<text x="206.20" y="281.40" font-size="4.5" font-weight="bold" font-family="Liberation Sans, sans-serif">1</text>
<line x1="212.20" y1="257.24" x2="214.60" y2="257.24" stroke="#3a3a3a" stroke-width="0.9"/>
<text x="206.60" y="260.24" font-size="5.9" font-weight="bold" text-anchor="end" font-family="Liberation Sans, sans-serif">10</text>
<text x="206.20" y="258.74" font-size="4.5" font-weight="bold" font-family="Liberation Sans, sans-serif">2</text>
<line x1="212.20" y1="234.58" x2="214.60" y2="234.58" stroke="#3a3a3a" stroke-width="0.9"/>
<text x="206.60" y="237.58" font-size="5.9" font-weight="bold" text-anchor="end" font-family="Liberation Sans, sans-serif">10</text>
<text x="206.20" y="236.08" font-size="4.5" font-weight="bold" font-family="Liberation Sans, sans-serif">3</text>
<line x1="212.20" y1="211.92" x2="214.60" y2="211.92" stroke="#3a3a3a" stroke-width="0.9"/>
<text x="206.60" y="214.92" font-size="5.9" font-weight="bold" text-anchor="end" font-family="Liberation Sans, sans-serif">10</text>
<text x="206.20" y="213.42" font-size="4.5" font-weight="bold" font-family="Liberation Sans, sans-serif">4</text>
<line x1="212.20" y1="189.26" x2="214.60" y2="189.26" stroke="#3a3a3a" stroke-width="0.9"/>
<text x="206.60" y="192.26" font-size="5.9" font-weight="bold" text-anchor="end" font-family="Liberation Sans, sans-serif">10</text>
<text x="206.20" y="190.76" font-size="4.5" font-weight="bold" font-family="Liberation Sans, sans-serif">5</text>
<text x="206.60" y="169.60" font-size="5.9" font-weight="bold" text-anchor="end" font-family="Liberation Sans, sans-serif">10</text>
<text x="206.20" y="168.10" font-size="4.5" font-weight="bold" font-family="Liberation Sans, sans-serif">6</text>
<line x1="228.40" y1="277.60" x2="228.40" y2="279.90" stroke="#3a3a3a" stroke-width="0.9"/>
<text x="228.90" y="288.10" font-size="6.5" font-weight="bold" text-anchor="middle" font-family="Liberation Sans, sans-serif">D0</text>
<line x1="244.40" y1="277.60" x2="244.40" y2="279.90" stroke="#3a3a3a" stroke-width="0.9"/>
<text x="244.90" y="288.10" font-size="6.5" font-weight="bold" text-anchor="middle" font-family="Liberation Sans, sans-serif">D1</text>
<line x1="260.40" y1="277.60" x2="260.40" y2="279.90" stroke="#3a3a3a" stroke-width="0.9"/>
<text x="260.90" y="288.10" font-size="6.5" font-weight="bold" text-anchor="middle" font-family="Liberation Sans, sans-serif">D2</text>
<line x1="276.40" y1="277.60" x2="276.40" y2="279.90" stroke="#3a3a3a" stroke-width="0.9"/>
<text x="276.90" y="288.10" font-size="6.5" font-weight="bold" text-anchor="middle" font-family="Liberation Sans, sans-serif">D3</text>
<line x1="292.40" y1="277.60" x2="292.40" y2="279.90" stroke="#3a3a3a" stroke-width="0.9"/>
<text x="292.90" y="288.10" font-size="6.5" font-weight="bold" text-anchor="middle" font-family="Liberation Sans, sans-serif">D4</text>
<line x1="308.40" y1="277.60" x2="308.40" y2="279.90" stroke="#3a3a3a" stroke-width="0.9"/>
<text x="308.90" y="288.10" font-size="6.5" font-weight="bold" text-anchor="middle" font-family="Liberation Sans, sans-serif">D5</text>
<line x1="324.40" y1="277.60" x2="324.40" y2="279.90" stroke="#3a3a3a" stroke-width="0.9"/>
<text x="324.90" y="288.10" font-size="6.5" font-weight="bold" text-anchor="middle" font-family="Liberation Sans, sans-serif">D6</text>
<line x1="340.40" y1="277.60" x2="340.40" y2="279.90" stroke="#3a3a3a" stroke-width="0.9"/>
<text x="340.90" y="288.10" font-size="6.5" font-weight="bold" text-anchor="middle" font-family="Liberation Sans, sans-serif">D7</text>
<path d="M373.60 166.60 H517.80 V279.90 H373.60 Z" fill="none" stroke="#3a3a3a" stroke-width="1.1"/>
<text x="368.00" y="282.90" font-size="5.9" font-weight="bold" text-anchor="end" font-family="Liberation Sans, sans-serif">10</text>
<text x="367.60" y="281.40" font-size="4.5" font-weight="bold" font-family="Liberation Sans, sans-serif">1</text>
<line x1="373.60" y1="257.24" x2="376.00" y2="257.24" stroke="#3a3a3a" stroke-width="0.9"/>
<text x="368.00" y="260.24" font-size="5.9" font-weight="bold" text-anchor="end" font-family="Liberation Sans, sans-serif">10</text>
<text x="367.60" y="258.74" font-size="4.5" font-weight="bold" font-family="Liberation Sans, sans-serif">2</text>
<line x1="373.60" y1="234.58" x2="376.00" y2="234.58" stroke="#3a3a3a" stroke-width="0.9"/>
<text x="368.00" y="237.58" font-size="5.9" font-weight="bold" text-anchor="end" font-family="Liberation Sans, sans-serif">10</text>
<text x="367.60" y="236.08" font-size="4.5" font-weight="bold" font-family="Liberation Sans, sans-serif">3</text>
<line x1="373.60" y1="211.92" x2="376.00" y2="211.92" stroke="#3a3a3a" stroke-width="0.9"/>
<text x="368.00" y="214.92" font-size="5.9" font-weight="bold" text-anchor="end" font-family="Liberation Sans, sans-serif">10</text>
<text x="367.60" y="213.42" font-size="4.5" font-weight="bold" font-family="Liberation Sans, sans-serif">4</text>
<line x1="373.60" y1="189.26" x2="376.00" y2="189.26" stroke="#3a3a3a" stroke-width="0.9"/>
<text x="368.00" y="192.26" font-size="5.9" font-weight="bold" text-anchor="end" font-family="Liberation Sans, sans-serif">10</text>
<text x="367.60" y="190.76" font-size="4.5" font-weight="bold" font-family="Liberation Sans, sans-serif">5</text>
<text x="368.00" y="169.60" font-size="5.9" font-weight="bold" text-anchor="end" font-family="Liberation Sans, sans-serif">10</text>
<text x="367.60" y="168.10" font-size="4.5" font-weight="bold" font-family="Liberation Sans, sans-serif">6</text>
<line x1="389.80" y1="277.60" x2="389.80" y2="279.90" stroke="#3a3a3a" stroke-width="0.9"/>
<text x="390.30" y="288.10" font-size="6.5" font-weight="bold" text-anchor="middle" font-family="Liberation Sans, sans-serif">D0</text>
<line x1="405.80" y1="277.60" x2="405.80" y2="279.90" stroke="#3a3a3a" stroke-width="0.9"/>
<text x="406.30" y="288.10" font-size="6.5" font-weight="bold" text-anchor="middle" font-family="Liberation Sans, sans-serif">D1</text>
<line x1="421.80" y1="277.60" x2="421.80" y2="279.90" stroke="#3a3a3a" stroke-width="0.9"/>
<text x="422.30" y="288.10" font-size="6.5" font-weight="bold" text-anchor="middle" font-family="Liberation Sans, sans-serif">D2</text>
<line x1="437.80" y1="277.60" x2="437.80" y2="279.90" stroke="#3a3a3a" stroke-width="0.9"/>
<text x="438.30" y="288.10" font-size="6.5" font-weight="bold" text-anchor="middle" font-family="Liberation Sans, sans-serif">D3</text>
<line x1="453.80" y1="277.60" x2="453.80" y2="279.90" stroke="#3a3a3a" stroke-width="0.9"/>
<text x="454.30" y="288.10" font-size="6.5" font-weight="bold" text-anchor="middle" font-family="Liberation Sans, sans-serif">D4</text>
<line x1="469.80" y1="277.60" x2="469.80" y2="279.90" stroke="#3a3a3a" stroke-width="0.9"/>
<text x="470.30" y="288.10" font-size="6.5" font-weight="bold" text-anchor="middle" font-family="Liberation Sans, sans-serif">D5</text>
<line x1="485.80" y1="277.60" x2="485.80" y2="279.90" stroke="#3a3a3a" stroke-width="0.9"/>
<text x="486.30" y="288.10" font-size="6.5" font-weight="bold" text-anchor="middle" font-family="Liberation Sans, sans-serif">D6</text>
<line x1="501.80" y1="277.60" x2="501.80" y2="279.90" stroke="#3a3a3a" stroke-width="0.9"/>
<text x="502.30" y="288.10" font-size="6.5" font-weight="bold" text-anchor="middle" font-family="Liberation Sans, sans-serif">D7</text>
<path d="M50.40 294.30 H194.60 V407.60 H50.40 Z" fill="none" stroke="#3a3a3a" stroke-width="1.1"/>
<text x="44.80" y="410.60" font-size="5.9" font-weight="bold" text-anchor="end" font-family="Liberation Sans, sans-serif">10</text>
<text x="44.40" y="409.10" font-size="4.5" font-weight="bold" font-family="Liberation Sans, sans-serif">1</text>
<line x1="50.40" y1="384.94" x2="52.80" y2="384.94" stroke="#3a3a3a" stroke-width="0.9"/>
<text x="44.80" y="387.94" font-size="5.9" font-weight="bold" text-anchor="end" font-family="Liberation Sans, sans-serif">10</text>
<text x="44.40" y="386.44" font-size="4.5" font-weight="bold" font-family="Liberation Sans, sans-serif">2</text>
<line x1="50.40" y1="362.28" x2="52.80" y2="362.28" stroke="#3a3a3a" stroke-width="0.9"/>
<text x="44.80" y="365.28" font-size="5.9" font-weight="bold" text-anchor="end" font-family="Liberation Sans, sans-serif">10</text>
<text x="44.40" y="363.78" font-size="4.5" font-weight="bold" font-family="Liberation Sans, sans-serif">3</text>
<line x1="50.40" y1="339.62" x2="52.80" y2="339.62" stroke="#3a3a3a" stroke-width="0.9"/>
<text x="44.80" y="342.62" font-size="5.9" font-weight="bold" text-anchor="end" font-family="Liberation Sans, sans-serif">10</text>
<text x="44.40" y="341.12" font-size="4.5" font-weight="bold" font-family="Liberation Sans, sans-serif">4</text>
<line x1="50.40" y1="316.96" x2="52.80" y2="316.96" stroke="#3a3a3a" stroke-width="0.9"/>
<text x="44.80" y="319.96" font-size="5.9" font-weight="bold" text-anchor="end" font-family="Liberation Sans, sans-serif">10</text>
<text x="44.40" y="318.46" font-size="4.5" font-weight="bold" font-family="Liberation Sans, sans-serif">5</text>
<text x="44.80" y="297.30" font-size="5.9" font-weight="bold" text-anchor="end" font-family="Liberation Sans, sans-serif">10</text>
<text x="44.40" y="295.80" font-size="4.5" font-weight="bold" font-family="Liberation Sans, sans-serif">6</text>
<line x1="66.60" y1="405.30" x2="66.60" y2="407.60" stroke="#3a3a3a" stroke-width="0.9"/>
<text x="67.10" y="415.80" font-size="6.5" font-weight="bold" text-anchor="middle" font-family="Liberation Sans, sans-serif">D0</text>
<line x1="82.60" y1="405.30" x2="82.60" y2="407.60" stroke="#3a3a3a" stroke-width="0.9"/>
<text x="83.10" y="415.80" font-size="6.5" font-weight="bold" text-anchor="middle" font-family="Liberation Sans, sans-serif">D1</text>
<line x1="98.60" y1="405.30" x2="98.60" y2="407.60" stroke="#3a3a3a" stroke-width="0.9"/>
<text x="99.10" y="415.80" font-size="6.5" font-weight="bold" text-anchor="middle" font-family="Liberation Sans, sans-serif">D2</text>
<line x1="114.60" y1="405.30" x2="114.60" y2="407.60" stroke="#3a3a3a" stroke-width="0.9"/>
<text x="115.10" y="415.80" font-size="6.5" font-weight="bold" text-anchor="middle" font-family="Liberation Sans, sans-serif">D3</text>
<line x1="130.60" y1="405.30" x2="130.60" y2="407.60" stroke="#3a3a3a" stroke-width="0.9"/>
<text x="131.10" y="415.80" font-size="6.5" font-weight="bold" text-anchor="middle" font-family="Liberation Sans, sans-serif">D4</text>
<line x1="146.60" y1="405.30" x2="146.60" y2="407.60" stroke="#3a3a3a" stroke-width="0.9"/>
<text x="147.10" y="415.80" font-size="6.5" font-weight="bold" text-anchor="middle" font-family="Liberation Sans, sans-serif">D5</text>
<line x1="162.60" y1="405.30" x2="162.60" y2="407.60" stroke="#3a3a3a" stroke-width="0.9"/>
<text x="163.10" y="415.80" font-size="6.5" font-weight="bold" text-anchor="middle" font-family="Liberation Sans, sans-serif">D6</text>
<line x1="178.60" y1="405.30" x2="178.60" y2="407.60" stroke="#3a3a3a" stroke-width="0.9"/>
<text x="179.10" y="415.80" font-size="6.5" font-weight="bold" text-anchor="middle" font-family="Liberation Sans, sans-serif">D7</text>
<path d="M212.20 294.30 H356.40 V407.60 H212.20 Z" fill="none" stroke="#3a3a3a" stroke-width="1.1"/>
<text x="206.60" y="410.60" font-size="5.9" font-weight="bold" text-anchor="end" font-family="Liberation Sans, sans-serif">10</text>
<text x="206.20" y="409.10" font-size="4.5" font-weight="bold" font-family="Liberation Sans, sans-serif">1</text>
<line x1="212.20" y1="384.94" x2="214.60" y2="384.94" stroke="#3a3a3a" stroke-width="0.9"/>
<text x="206.60" y="387.94" font-size="5.9" font-weight="bold" text-anchor="end" font-family="Liberation Sans, sans-serif">10</text>
<text x="206.20" y="386.44" font-size="4.5" font-weight="bold" font-family="Liberation Sans, sans-serif">2</text>
<line x1="212.20" y1="362.28" x2="214.60" y2="362.28" stroke="#3a3a3a" stroke-width="0.9"/>
<text x="206.60" y="365.28" font-size="5.9" font-weight="bold" text-anchor="end" font-family="Liberation Sans, sans-serif">10</text>
<text x="206.20" y="363.78" font-size="4.5" font-weight="bold" font-family="Liberation Sans, sans-serif">3</text>
<line x1="212.20" y1="339.62" x2="214.60" y2="339.62" stroke="#3a3a3a" stroke-width="0.9"/>
<text x="206.60" y="342.62" font-size="5.9" font-weight="bold" text-anchor="end" font-family="Liberation Sans, sans-serif">10</text>
<text x="206.20" y="341.12" font-size="4.5" font-weight="bold" font-family="Liberation Sans, sans-serif">4</text>
<line x1="212.20" y1="316.96" x2="214.60" y2="316.96" stroke="#3a3a3a" stroke-width="0.9"/>
<text x="206.60" y="319.96" font-size="5.9" font-weight="bold" text-anchor="end" font-family="Liberation Sans, sans-serif">10</text>
<text x="206.20" y="318.46" font-size="4.5" font-weight="bold" font-family="Liberation Sans, sans-serif">5</text>
<text x="206.60" y="297.30" font-size="5.9" font-weight="bold" text-anchor="end" font-family="Liberation Sans, sans-serif">10</text>
<text x="206.20" y="295.80" font-size="4.5" font-weight="bold" font-family="Liberation Sans, sans-serif">6</text>
<line x1="228.40" y1="405.30" x2="228.40" y2="407.60" stroke="#3a3a3a" stroke-width="0.9"/>
<text x="228.90" y="415.80" font-size="6.5" font-weight="bold" text-anchor="middle" font-family="Liberation Sans, sans-serif">D0</text>
<line x1="244.40" y1="405.30" x2="244.40" y2="407.60" stroke="#3a3a3a" stroke-width="0.9"/>
<text x="244.90" y="415.80" font-size="6.5" font-weight="bold" text-anchor="middle" font-family="Liberation Sans, sans-serif">D1</text>
<line x1="260.40" y1="405.30" x2="260.40" y2="407.60" stroke="#3a3a3a" stroke-width="0.9"/>
<text x="260.90" y="415.80" font-size="6.5" font-weight="bold" text-anchor="middle" font-family="Liberation Sans, sans-serif">D2</text>
<line x1="276.40" y1="405.30" x2="276.40" y2="407.60" stroke="#3a3a3a" stroke-width="0.9"/>
<text x="276.90" y="415.80" font-size="6.5" font-weight="bold" text-anchor="middle" font-family="Liberation Sans, sans-serif">D3</text>
<line x1="292.40" y1="405.30" x2="292.40" y2="407.60" stroke="#3a3a3a" stroke-width="0.9"/>
<text x="292.90" y="415.80" font-size="6.5" font-weight="bold" text-anchor="middle" font-family="Liberation Sans, sans-serif">D4</text>
<line x1="308.40" y1="405.30" x2="308.40" y2="407.60" stroke="#3a3a3a" stroke-width="0.9"/>
<text x="308.90" y="415.80" font-size="6.5" font-weight="bold" text-anchor="middle" font-family="Liberation Sans, sans-serif">D5</text>
<line x1="324.40" y1="405.30" x2="324.40" y2="407.60" stroke="#3a3a3a" stroke-width="0.9"/>
<text x="324.90" y="415.80" font-size="6.5" font-weight="bold" text-anchor="middle" font-family="Liberation Sans, sans-serif">D6</text>
<line x1="340.40" y1="405.30" x2="340.40" y2="407.60" stroke="#3a3a3a" stroke-width="0.9"/>
<text x="340.90" y="415.80" font-size="6.5" font-weight="bold" text-anchor="middle" font-family="Liberation Sans, sans-serif">D7</text>
<path d="M373.60 294.30 H517.80 V407.60 H373.60 Z" fill="none" stroke="#3a3a3a" stroke-width="1.1"/>
<text x="368.00" y="410.60" font-size="5.9" font-weight="bold" text-anchor="end" font-family="Liberation Sans, sans-serif">10</text>
<text x="367.60" y="409.10" font-size="4.5" font-weight="bold" font-family="Liberation Sans, sans-serif">1</text>
<line x1="373.60" y1="384.94" x2="376.00" y2="384.94" stroke="#3a3a3a" stroke-width="0.9"/>
<text x="368.00" y="387.94" font-size="5.9" font-weight="bold" text-anchor="end" font-family="Liberation Sans, sans-serif">10</text>
<text x="367.60" y="386.44" font-size="4.5" font-weight="bold" font-family="Liberation Sans, sans-serif">2</text>
<line x1="373.60" y1="362.28" x2="376.00" y2="362.28" stroke="#3a3a3a" stroke-width="0.9"/>
<text x="368.00" y="365.28" font-size="5.9" font-weight="bold" text-anchor="end" font-family="Liberation Sans, sans-serif">10</text>
<text x="367.60" y="363.78" font-size="4.5" font-weight="bold" font-family="Liberation Sans, sans-serif">3</text>
<line x1="373.60" y1="339.62" x2="376.00" y2="339.62" stroke="#3a3a3a" stroke-width="0.9"/>
<text x="368.00" y="342.62" font-size="5.9" font-weight="bold" text-anchor="end" font-family="Liberation Sans, sans-serif">10</text>
<text x="367.60" y="341.12" font-size="4.5" font-weight="bold" font-family="Liberation Sans, sans-serif">4</text>
<line x1="373.60" y1="316.96" x2="376.00" y2="316.96" stroke="#3a3a3a" stroke-width="0.9"/>
<text x="368.00" y="319.96" font-size="5.9" font-weight="bold" text-anchor="end" font-family="Liberation Sans, sans-serif">10</text>
<text x="367.60" y="318.46" font-size="4.5" font-weight="bold" font-family="Liberation Sans, sans-serif">5</text>
<text x="368.00" y="297.30" font-size="5.9" font-weight="bold" text-anchor="end" font-family="Liberation Sans, sans-serif">10</text>
<text x="367.60" y="295.80" font-size="4.5" font-weight="bold" font-family="Liberation Sans, sans-serif">6</text>
<line x1="389.80" y1="405.30" x2="389.80" y2="407.60" stroke="#3a3a3a" stroke-width="0.9"/>
<text x="390.30" y="415.80" font-size="6.5" font-weight="bold" text-anchor="middle" font-family="Liberation Sans, sans-serif">D0</text>
<line x1="405.80" y1="405.30" x2="405.80" y2="407.60" stroke="#3a3a3a" stroke-width="0.9"/>
<text x="406.30" y="415.80" font-size="6.5" font-weight="bold" text-anchor="middle" font-family="Liberation Sans, sans-serif">D1</text>
<line x1="421.80" y1="405.30" x2="421.80" y2="407.60" stroke="#3a3a3a" stroke-width="0.9"/>
<text x="422.30" y="415.80" font-size="6.5" font-weight="bold" text-anchor="middle" font-family="Liberation Sans, sans-serif">D2</text>
<line x1="437.80" y1="405.30" x2="437.80" y2="407.60" stroke="#3a3a3a" stroke-width="0.9"/>
<text x="438.30" y="415.80" font-size="6.5" font-weight="bold" text-anchor="middle" font-family="Liberation Sans, sans-serif">D3</text>
<line x1="453.80" y1="405.30" x2="453.80" y2="407.60" stroke="#3a3a3a" stroke-width="0.9"/>
<text x="454.30" y="415.80" font-size="6.5" font-weight="bold" text-anchor="middle" font-family="Liberation Sans, sans-serif">D4</text>
<line x1="469.80" y1="405.30" x2="469.80" y2="407.60" stroke="#3a3a3a" stroke-width="0.9"/>
<text x="470.30" y="415.80" font-size="6.5" font-weight="bold" text-anchor="middle" font-family="Liberation Sans, sans-serif">D5</text>
<line x1="485.80" y1="405.30" x2="485.80" y2="407.60" stroke="#3a3a3a" stroke-width="0.9"/>
<text x="486.30" y="415.80" font-size="6.5" font-weight="bold" text-anchor="middle" font-family="Liberation Sans, sans-serif">D6</text>
<line x1="501.80" y1="405.30" x2="501.80" y2="407.60" stroke="#3a3a3a" stroke-width="0.9"/>
<text x="502.30" y="415.80" font-size="6.5" font-weight="bold" text-anchor="middle" font-family="Liberation Sans, sans-serif">D7</text>
<path d="M66.50 219.80 L82.50 218.40 L98.50 225.60 L114.50 233.60 L130.50 233.40 L146.50 241.10 L162.50 239.10 L178.50 237.10" fill="none" stroke="#58a458" stroke-width="0.9" stroke-dasharray="3.4 2.2"/>
<circle cx="66.50" cy="219.80" r="1.80" fill="#229a22"/>
<circle cx="82.50" cy="218.40" r="1.80" fill="#229a22"/>
<circle cx="98.50" cy="225.60" r="1.80" fill="#229a22"/>
<circle cx="114.50" cy="233.60" r="1.80" fill="#229a22"/>
<circle cx="130.50" cy="233.40" r="1.80" fill="#229a22"/>
<circle cx="146.50" cy="241.10" r="1.80" fill="#229a22"/>
<circle cx="162.50" cy="239.10" r="1.80" fill="#229a22"/>
<circle cx="178.50" cy="237.10" r="1.80" fill="#229a22"/>
<path d="M66.50 224.70 L82.50 217.50 L98.50 217.80 L114.50 221.20 L130.50 222.70 L146.50 222.70 L162.50 223.80 L178.50 227.60" fill="none" stroke="#7660d4" stroke-width="0.9" stroke-dasharray="6.5 3"/>
<path d="M66.50 222.60 L68.60 226.40 L64.40 226.40 Z" fill="#4628c4"/>
<path d="M82.50 215.40 L84.60 219.20 L80.40 219.20 Z" fill="#4628c4"/>
<path d="M98.50 215.70 L100.60 219.50 L96.40 219.50 Z" fill="#4628c4"/>
<path d="M114.50 219.10 L116.60 222.90 L112.40 222.90 Z" fill="#4628c4"/>
<path d="M130.50 220.60 L132.60 224.40 L128.40 224.40 Z" fill="#4628c4"/>
<path d="M146.50 220.60 L148.60 224.40 L144.40 224.40 Z" fill="#4628c4"/>
<path d="M162.50 221.70 L164.60 225.50 L160.40 225.50 Z" fill="#4628c4"/>
<path d="M178.50 225.50 L180.60 229.30 L176.40 229.30 Z" fill="#4628c4"/>
<path d="M66.50 195.90 L82.50 204.50 L98.50 215.50 L114.50 221.20 L130.50 219.00 L146.50 218.00 L162.50 214.60 L178.50 211.20" fill="none" stroke="#d45050" stroke-width="0.9" stroke-dasharray="1.5 1.5"/>
<rect x="65.10" y="194.50" width="2.80" height="2.80" fill="#f4d8d0" stroke="#c42a22" stroke-width="0.8"/>
<path d="M65.10 197.30 L67.90 194.50 L67.90 197.30 Z" fill="#c42a22"/>
<rect x="81.10" y="203.10" width="2.80" height="2.80" fill="#f4d8d0" stroke="#c42a22" stroke-width="0.8"/>
<path d="M81.10 205.90 L83.90 203.10 L83.90 205.90 Z" fill="#c42a22"/>
<rect x="97.10" y="214.10" width="2.80" height="2.80" fill="#f4d8d0" stroke="#c42a22" stroke-width="0.8"/>
<path d="M97.10 216.90 L99.90 214.10 L99.90 216.90 Z" fill="#c42a22"/>
<rect x="113.10" y="219.80" width="2.80" height="2.80" fill="#f4d8d0" stroke="#c42a22" stroke-width="0.8"/>
<path d="M113.10 222.60 L115.90 219.80 L115.90 222.60 Z" fill="#c42a22"/>
<rect x="129.10" y="217.60" width="2.80" height="2.80" fill="#f4d8d0" stroke="#c42a22" stroke-width="0.8"/>
<path d="M129.10 220.40 L131.90 217.60 L131.90 220.40 Z" fill="#c42a22"/>
<rect x="145.10" y="216.60" width="2.80" height="2.80" fill="#f4d8d0" stroke="#c42a22" stroke-width="0.8"/>
<path d="M145.10 219.40 L147.90 216.60 L147.90 219.40 Z" fill="#c42a22"/>
<rect x="161.10" y="213.20" width="2.80" height="2.80" fill="#f4d8d0" stroke="#c42a22" stroke-width="0.8"/>
<path d="M161.10 216.00 L163.90 213.20 L163.90 216.00 Z" fill="#c42a22"/>
<rect x="177.10" y="209.80" width="2.80" height="2.80" fill="#f4d8d0" stroke="#c42a22" stroke-width="0.8"/>
<path d="M177.10 212.60 L179.90 209.80 L179.90 212.60 Z" fill="#c42a22"/>
<path d="M66.50 205.40 L82.50 199.60 L98.50 204.50 L114.50 208.00 L130.50 217.50 L146.50 222.40 L162.50 223.80 L178.50 228.20" fill="none" stroke="#3636e6" stroke-width="0.9"/>
<rect x="64.70" y="203.60" width="3.60" height="3.60" fill="#1818d8"/>
<rect x="80.70" y="197.80" width="3.60" height="3.60" fill="#1818d8"/>
<rect x="96.70" y="202.70" width="3.60" height="3.60" fill="#1818d8"/>
<rect x="112.70" y="206.20" width="3.60" height="3.60" fill="#1818d8"/>
<rect x="128.70" y="215.70" width="3.60" height="3.60" fill="#1818d8"/>
<rect x="144.70" y="220.60" width="3.60" height="3.60" fill="#1818d8"/>
<rect x="160.70" y="222.00" width="3.60" height="3.60" fill="#1818d8"/>
<rect x="176.70" y="226.40" width="3.60" height="3.60" fill="#1818d8"/>
<rect x="113.50" y="166.60" width="81.10" height="30.40" fill="#fff" stroke="#3a3a3a" stroke-width="1"/>
<text x="113.90" y="175.90" font-size="6.2" font-weight="bold" text-anchor="end" stroke="#000" stroke-width="0.25" font-family="Liberation Sans, sans-serif">200%</text>
<text x="113.90" y="182.40" font-size="6.2" font-weight="bold" text-anchor="end" stroke="#000" stroke-width="0.25" font-family="Liberation Sans, sans-serif">150%</text>
<text x="113.90" y="188.80" font-size="6.2" font-weight="bold" text-anchor="end" stroke="#000" stroke-width="0.25" font-family="Liberation Sans, sans-serif">100%</text>
<text x="113.90" y="195.20" font-size="6.2" font-weight="bold" text-anchor="end" stroke="#000" stroke-width="0.25" font-family="Liberation Sans, sans-serif">50%</text>
<text x="111.70" y="202.60" font-size="6.2" font-weight="bold" text-anchor="end" stroke="#000" stroke-width="0.25" font-family="Liberation Sans, sans-serif">0%</text>
<line x1="113.50" y1="173.70" x2="115.10" y2="173.70" stroke="#222" stroke-width="0.8"/>
<line x1="113.50" y1="180.20" x2="115.10" y2="180.20" stroke="#222" stroke-width="0.8"/>
<line x1="113.50" y1="186.60" x2="115.10" y2="186.60" stroke="#222" stroke-width="0.8"/>
<line x1="113.50" y1="193.00" x2="115.10" y2="193.00" stroke="#222" stroke-width="0.8"/>
<text x="121.00" y="205.00" font-size="6.9" font-weight="bold" textLength="69.1" lengthAdjust="spacingAndGlyphs" font-family="Liberation Sans, sans-serif">D0D1D2D3D4D5D6D7</text>
<path d="M122.20 183.30 L131.25 169.10 L140.30 171.70 L149.35 175.80 L158.40 180.80 L167.45 179.80 L176.50 185.30 L185.55 187.30" fill="none" stroke="#5a30d8" stroke-width="0.8" stroke-dasharray="6.5 3"/>
<circle cx="122.20" cy="183.30" r="0.7" fill="#5a30d8"/>
<circle cx="131.25" cy="169.10" r="0.7" fill="#5a30d8"/>
<circle cx="140.30" cy="171.70" r="0.7" fill="#5a30d8"/>
<circle cx="149.35" cy="175.80" r="0.7" fill="#5a30d8"/>
<circle cx="158.40" cy="180.80" r="0.7" fill="#5a30d8"/>
<circle cx="167.45" cy="179.80" r="0.7" fill="#5a30d8"/>
<circle cx="176.50" cy="185.30" r="0.7" fill="#5a30d8"/>
<circle cx="185.55" cy="187.30" r="0.7" fill="#5a30d8"/>
<path d="M122.20 183.30 L131.25 171.70 L140.30 181.80 L149.35 186.50 L158.40 193.30 L167.45 195.40 L176.50 195.80 L185.55 195.80" fill="none" stroke="#1a22d8" stroke-width="0.8"/>
<circle cx="122.20" cy="183.30" r="0.7" fill="#1a22d8"/>
<circle cx="131.25" cy="171.70" r="0.7" fill="#1a22d8"/>
<circle cx="140.30" cy="181.80" r="0.7" fill="#1a22d8"/>
<circle cx="149.35" cy="186.50" r="0.7" fill="#1a22d8"/>
<circle cx="158.40" cy="193.30" r="0.7" fill="#1a22d8"/>
<circle cx="167.45" cy="195.40" r="0.7" fill="#1a22d8"/>
<circle cx="176.50" cy="195.80" r="0.7" fill="#1a22d8"/>
<circle cx="185.55" cy="195.80" r="0.7" fill="#1a22d8"/>
<path d="M122.20 183.30 L131.25 181.20 L140.30 189.00 L149.35 193.40 L158.40 194.30 L167.45 195.60 L176.50 195.80 L185.55 195.80" fill="none" stroke="#2a9a2a" stroke-width="0.8" stroke-dasharray="3.4 2.2"/>
<circle cx="122.20" cy="183.30" r="0.7" fill="#2a9a2a"/>
<circle cx="131.25" cy="181.20" r="0.7" fill="#2a9a2a"/>
<circle cx="140.30" cy="189.00" r="0.7" fill="#2a9a2a"/>
<circle cx="149.35" cy="193.40" r="0.7" fill="#2a9a2a"/>
<circle cx="158.40" cy="194.30" r="0.7" fill="#2a9a2a"/>
<circle cx="167.45" cy="195.60" r="0.7" fill="#2a9a2a"/>
<circle cx="176.50" cy="195.80" r="0.7" fill="#2a9a2a"/>
<circle cx="185.55" cy="195.80" r="0.7" fill="#2a9a2a"/>
<path d="M122.20 183.30 L131.25 191.00 L140.30 195.00 L149.35 196.00 L158.40 196.00 L167.45 196.00 L176.50 196.00 L185.55 196.00" fill="none" stroke="#c42a22" stroke-width="0.8"/>
<circle cx="122.20" cy="183.30" r="0.7" fill="#c42a22"/>
<circle cx="131.25" cy="191.00" r="0.7" fill="#c42a22"/>
<circle cx="140.30" cy="195.00" r="0.7" fill="#c42a22"/>
<circle cx="149.35" cy="196.00" r="0.7" fill="#c42a22"/>
<circle cx="158.40" cy="196.00" r="0.7" fill="#c42a22"/>
<circle cx="167.45" cy="196.00" r="0.7" fill="#c42a22"/>
<circle cx="176.50" cy="196.00" r="0.7" fill="#c42a22"/>
<circle cx="185.55" cy="196.00" r="0.7" fill="#c42a22"/>
<line x1="161" y1="256.90" x2="175.8" y2="256.90" stroke="#3636e6" stroke-width="0.9"/>
<rect x="166.15" y="254.75" width="4.30" height="4.30" fill="#1818d8"/>
<text x="177.9" y="259.00" font-size="6" fill="#1a22d8" font-family="Liberation Sans, sans-serif">CD34</text>
<line x1="161" y1="262.70" x2="175.8" y2="262.70" stroke="#58a458" stroke-width="0.9" stroke-dasharray="3.4 2.2"/>
<circle cx="168.30" cy="262.70" r="1.90" fill="#229a22"/>
<text x="177.9" y="264.80" font-size="6" fill="#2a9a2a" font-family="Liberation Sans, sans-serif">Flt3</text>
<line x1="161" y1="268.60" x2="175.8" y2="268.60" stroke="#7660d4" stroke-width="0.9" stroke-dasharray="6.5 3"/>
<path d="M168.30 266.15 L170.75 270.65 L165.85 270.65 Z" fill="#4628c4"/>
<text x="177.9" y="270.70" font-size="6" fill="#5a30d8" font-family="Liberation Sans, sans-serif">Kit</text>
<line x1="161" y1="274.40" x2="175.8" y2="274.40" stroke="#d45050" stroke-width="0.9" stroke-dasharray="1.5 1.5"/>
<rect x="166.55" y="272.65" width="3.50" height="3.50" fill="#f4d8d0" stroke="#c42a22" stroke-width="0.8"/>
<path d="M166.55 276.15 L170.05 272.65 L170.05 276.15 Z" fill="#c42a22"/>
<text x="177.9" y="276.50" font-size="6" fill="#c42a22" font-family="Liberation Sans, sans-serif">Sca1</text>
<path d="M228.00 230.10 L244.00 232.10 L260.00 226.30 L276.00 215.40 L292.00 203.30 L308.00 203.80 L324.00 209.00 L340.00 211.90" fill="none" stroke="#7660d4" stroke-width="0.9" stroke-dasharray="6.5 3"/>
<path d="M228.00 232.20 L230.10 228.40 L225.90 228.40 Z" fill="#4628c4"/>
<path d="M244.00 234.20 L246.10 230.40 L241.90 230.40 Z" fill="#4628c4"/>
<path d="M260.00 228.40 L262.10 224.60 L257.90 224.60 Z" fill="#4628c4"/>
<path d="M276.00 217.50 L278.10 213.70 L273.90 213.70 Z" fill="#4628c4"/>
<path d="M292.00 205.40 L294.10 201.60 L289.90 201.60 Z" fill="#4628c4"/>
<path d="M308.00 205.90 L310.10 202.10 L305.90 202.10 Z" fill="#4628c4"/>
<path d="M324.00 211.10 L326.10 207.30 L321.90 207.30 Z" fill="#4628c4"/>
<path d="M340.00 214.00 L342.10 210.20 L337.90 210.20 Z" fill="#4628c4"/>
<path d="M228.00 211.00 L244.00 196.60 L260.00 189.40 L276.00 192.30 L292.00 191.20 L308.00 189.40 L324.00 193.70 L340.00 192.30" fill="none" stroke="#cc4a4a" stroke-width="0.9" stroke-dasharray="1.5 1.5"/>
<path d="M228.00 208.80 L230.20 211.00 L228.00 213.20 L225.80 211.00 Z" fill="#a81616"/>
<path d="M244.00 194.40 L246.20 196.60 L244.00 198.80 L241.80 196.60 Z" fill="#a81616"/>
<path d="M260.00 187.20 L262.20 189.40 L260.00 191.60 L257.80 189.40 Z" fill="#a81616"/>
<path d="M276.00 190.10 L278.20 192.30 L276.00 194.50 L273.80 192.30 Z" fill="#a81616"/>
<path d="M292.00 189.00 L294.20 191.20 L292.00 193.40 L289.80 191.20 Z" fill="#a81616"/>
<path d="M308.00 187.20 L310.20 189.40 L308.00 191.60 L305.80 189.40 Z" fill="#a81616"/>
<path d="M324.00 191.50 L326.20 193.70 L324.00 195.90 L321.80 193.70 Z" fill="#a81616"/>
<path d="M340.00 190.10 L342.20 192.30 L340.00 194.50 L337.80 192.30 Z" fill="#a81616"/>
<path d="M228.00 209.60 L244.00 201.80 L260.00 188.80 L276.00 191.20 L292.00 188.80 L308.00 186.50 L324.00 191.20 L340.00 188.30" fill="none" stroke="#3636e6" stroke-width="0.9"/>
<circle cx="228.00" cy="209.60" r="1.80" fill="#1818d8"/>
<circle cx="244.00" cy="201.80" r="1.80" fill="#1818d8"/>
<circle cx="260.00" cy="188.80" r="1.80" fill="#1818d8"/>
<circle cx="276.00" cy="191.20" r="1.80" fill="#1818d8"/>
<circle cx="292.00" cy="188.80" r="1.80" fill="#1818d8"/>
<circle cx="308.00" cy="186.50" r="1.80" fill="#1818d8"/>
<circle cx="324.00" cy="191.20" r="1.80" fill="#1818d8"/>
<circle cx="340.00" cy="188.30" r="1.80" fill="#1818d8"/>
<path d="M228.00 206.20 L244.00 196.00 L260.00 187.40 L276.00 190.30 L292.00 188.30 L308.00 186.00 L324.00 190.30 L340.00 187.70" fill="none" stroke="#58a458" stroke-width="0.9" stroke-dasharray="3.4 2.2"/>
<path d="M229.80 204.10 L230.10 208.00 L225.90 208.00 Z" fill="#1a7a5a"/>
<path d="M245.80 193.90 L246.10 197.80 L241.90 197.80 Z" fill="#1a7a5a"/>
<path d="M261.80 185.30 L262.10 189.20 L257.90 189.20 Z" fill="#1a7a5a"/>
<path d="M277.80 188.20 L278.10 192.10 L273.90 192.10 Z" fill="#1a7a5a"/>
<path d="M293.80 186.20 L294.10 190.10 L289.90 190.10 Z" fill="#1a7a5a"/>
<path d="M309.80 183.90 L310.10 187.80 L305.90 187.80 Z" fill="#1a7a5a"/>
<path d="M325.80 188.20 L326.10 192.10 L321.90 192.10 Z" fill="#1a7a5a"/>
<path d="M341.80 185.60 L342.10 189.50 L337.90 189.50 Z" fill="#1a7a5a"/>
<line x1="323.5" y1="256.90" x2="338.8" y2="256.90" stroke="#3636e6" stroke-width="0.9"/>
<circle cx="331.20" cy="256.90" r="1.90" fill="#1818d8"/>
<text x="339.9" y="259.00" font-size="6" fill="#1a22d8" font-family="Liberation Sans, sans-serif">Ctsg</text>
<line x1="323.5" y1="262.70" x2="338.8" y2="262.70" stroke="#58a458" stroke-width="0.9" stroke-dasharray="3.4 2.2"/>
<path d="M333.35 260.25 L333.65 264.85 L328.75 264.85 Z" fill="#1a7a5a"/>
<text x="339.9" y="264.80" font-size="6" fill="#2a9a2a" font-family="Liberation Sans, sans-serif">Mpo</text>
<line x1="323.5" y1="268.60" x2="338.8" y2="268.60" stroke="#7660d4" stroke-width="0.9" stroke-dasharray="6.5 3"/>
<path d="M331.20 271.05 L333.65 266.55 L328.75 266.55 Z" fill="#4628c4"/>
<text x="339.9" y="270.70" font-size="6" fill="#5a30d8" font-family="Liberation Sans, sans-serif">NE</text>
<line x1="323.5" y1="274.40" x2="338.8" y2="274.40" stroke="#cc4a4a" stroke-width="0.9" stroke-dasharray="1.5 1.5"/>
<path d="M331.20 272.10 L333.50 274.40 L331.20 276.70 L328.90 274.40 Z" fill="#a81616"/>
<text x="339.9" y="276.50" font-size="6" fill="#a01818" font-family="Liberation Sans, sans-serif">Prtn3</text>
<path d="M389.80 216.80 L405.80 202.70 L421.80 210.50 L437.80 205.30 L453.80 194.60 L469.80 188.80 L485.80 192.60 L501.80 188.00" fill="none" stroke="#7660d4" stroke-width="0.9" stroke-dasharray="6.5 3"/>
<circle cx="389.80" cy="216.80" r="1.80" fill="#4628c4"/>
<circle cx="405.80" cy="202.70" r="1.80" fill="#4628c4"/>
<circle cx="421.80" cy="210.50" r="1.80" fill="#4628c4"/>
<circle cx="437.80" cy="205.30" r="1.80" fill="#4628c4"/>
<circle cx="453.80" cy="194.60" r="1.80" fill="#4628c4"/>
<circle cx="469.80" cy="188.80" r="1.80" fill="#4628c4"/>
<circle cx="485.80" cy="192.60" r="1.80" fill="#4628c4"/>
<circle cx="501.80" cy="188.00" r="1.80" fill="#4628c4"/>
<path d="M389.80 260.10 L405.80 251.70 L421.80 243.10 L437.80 249.40 L453.80 252.30 L469.80 218.30 L485.80 201.20 L501.80 194.60" fill="none" stroke="#cc4a4a" stroke-width="0.9" stroke-dasharray="1.5 1.5"/>
<path d="M389.80 258.00 L391.90 261.80 L387.70 261.80 Z" fill="#a81616"/>
<path d="M405.80 249.60 L407.90 253.40 L403.70 253.40 Z" fill="#a81616"/>
<path d="M421.80 241.00 L423.90 244.80 L419.70 244.80 Z" fill="#a81616"/>
<path d="M437.80 247.30 L439.90 251.10 L435.70 251.10 Z" fill="#a81616"/>
<path d="M453.80 250.20 L455.90 254.00 L451.70 254.00 Z" fill="#a81616"/>
<path d="M469.80 216.20 L471.90 220.00 L467.70 220.00 Z" fill="#a81616"/>
<path d="M485.80 199.10 L487.90 202.90 L483.70 202.90 Z" fill="#a81616"/>
<path d="M501.80 192.50 L503.90 196.30 L499.70 196.30 Z" fill="#a81616"/>
<path d="M389.80 255.20 L405.80 251.70 L421.80 277.70 L437.80 257.20 L453.80 248.00 L469.80 215.40 L485.80 203.80 L501.80 198.40" fill="none" stroke="#58a458" stroke-width="0.9" stroke-dasharray="3.4 2.2"/>
<rect x="388.40" y="253.80" width="2.80" height="2.80" fill="#d8f0c8" stroke="#229a22" stroke-width="0.8"/>
<path d="M388.40 256.60 L391.20 253.80 L391.20 256.60 Z" fill="#229a22"/>
<rect x="404.40" y="250.30" width="2.80" height="2.80" fill="#d8f0c8" stroke="#229a22" stroke-width="0.8"/>
<path d="M404.40 253.10 L407.20 250.30 L407.20 253.10 Z" fill="#229a22"/>
<rect x="420.40" y="276.30" width="2.80" height="2.80" fill="#d8f0c8" stroke="#229a22" stroke-width="0.8"/>
<path d="M420.40 279.10 L423.20 276.30 L423.20 279.10 Z" fill="#229a22"/>
<rect x="436.40" y="255.80" width="2.80" height="2.80" fill="#d8f0c8" stroke="#229a22" stroke-width="0.8"/>
<path d="M436.40 258.60 L439.20 255.80 L439.20 258.60 Z" fill="#229a22"/>
<rect x="452.40" y="246.60" width="2.80" height="2.80" fill="#d8f0c8" stroke="#229a22" stroke-width="0.8"/>
<path d="M452.40 249.40 L455.20 246.60 L455.20 249.40 Z" fill="#229a22"/>
<rect x="468.40" y="214.00" width="2.80" height="2.80" fill="#d8f0c8" stroke="#229a22" stroke-width="0.8"/>
<path d="M468.40 216.80 L471.20 214.00 L471.20 216.80 Z" fill="#229a22"/>
<rect x="484.40" y="202.40" width="2.80" height="2.80" fill="#d8f0c8" stroke="#229a22" stroke-width="0.8"/>
<path d="M484.40 205.20 L487.20 202.40 L487.20 205.20 Z" fill="#229a22"/>
<rect x="500.40" y="197.00" width="2.80" height="2.80" fill="#d8f0c8" stroke="#229a22" stroke-width="0.8"/>
<path d="M500.40 199.80 L503.20 197.00 L503.20 199.80 Z" fill="#229a22"/>
<path d="M389.80 247.10 L405.80 251.70 L421.80 253.20 L437.80 253.20 L453.80 243.10 L469.80 229.20 L485.80 222.90 L501.80 216.80" fill="none" stroke="#3636e6" stroke-width="0.9"/>
<path d="M389.80 244.90 L392.00 247.10 L389.80 249.30 L387.60 247.10 Z" fill="#1818d8"/>
<path d="M405.80 249.50 L408.00 251.70 L405.80 253.90 L403.60 251.70 Z" fill="#1818d8"/>
<path d="M421.80 251.00 L424.00 253.20 L421.80 255.40 L419.60 253.20 Z" fill="#1818d8"/>
<path d="M437.80 251.00 L440.00 253.20 L437.80 255.40 L435.60 253.20 Z" fill="#1818d8"/>
<path d="M453.80 240.90 L456.00 243.10 L453.80 245.30 L451.60 243.10 Z" fill="#1818d8"/>
<path d="M469.80 227.00 L472.00 229.20 L469.80 231.40 L467.60 229.20 Z" fill="#1818d8"/>
<path d="M485.80 220.70 L488.00 222.90 L485.80 225.10 L483.60 222.90 Z" fill="#1818d8"/>
<path d="M501.80 214.60 L504.00 216.80 L501.80 219.00 L499.60 216.80 Z" fill="#1818d8"/>
<line x1="481" y1="256.90" x2="495.5" y2="256.90" stroke="#3636e6" stroke-width="0.9"/>
<path d="M488.30 253.90 L491.30 256.90 L488.30 259.90 L485.30 256.90 Z" fill="#1818d8"/>
<text x="497.9" y="259.00" font-size="6" fill="#1a22d8" font-family="Liberation Sans, sans-serif">CD11b</text>
<line x1="481" y1="262.70" x2="495.5" y2="262.70" stroke="#58a458" stroke-width="0.9" stroke-dasharray="3.4 2.2"/>
<rect x="486.55" y="260.95" width="3.50" height="3.50" fill="#d8f0c8" stroke="#229a22" stroke-width="0.8"/>
<path d="M486.55 264.45 L490.05 260.95 L490.05 264.45 Z" fill="#229a22"/>
<text x="497.9" y="264.80" font-size="6" fill="#2a9a2a" font-family="Liberation Sans, sans-serif">Fpr1</text>
<line x1="481" y1="268.60" x2="495.5" y2="268.60" stroke="#7660d4" stroke-width="0.9" stroke-dasharray="6.5 3"/>
<circle cx="488.30" cy="268.60" r="1.90" fill="#4628c4"/>
<text x="497.9" y="270.70" font-size="6" fill="#5a30d8" font-family="Liberation Sans, sans-serif">Lyzs</text>
<line x1="481" y1="274.40" x2="495.5" y2="274.40" stroke="#cc4a4a" stroke-width="0.9" stroke-dasharray="1.5 1.5"/>
<path d="M488.30 271.95 L490.75 276.45 L485.85 276.45 Z" fill="#a81616"/>
<text x="497.9" y="276.50" font-size="6" fill="#a01818" font-family="Liberation Sans, sans-serif">Mmp9</text>
<path d="M66.50 353.90 L98.50 359.20 L114.50 367.40 L130.50 369.40 L146.50 368.80 L162.50 372.30 L178.50 374.60" fill="none" stroke="#58a458" stroke-width="0.9" stroke-dasharray="3.4 2.2"/>
<circle cx="66.50" cy="353.90" r="1.80" fill="#229a22"/>
<circle cx="98.50" cy="359.20" r="1.80" fill="#229a22"/>
<circle cx="114.50" cy="367.40" r="1.80" fill="#229a22"/>
<circle cx="130.50" cy="369.40" r="1.80" fill="#229a22"/>
<circle cx="146.50" cy="368.80" r="1.80" fill="#229a22"/>
<circle cx="162.50" cy="372.30" r="1.80" fill="#229a22"/>
<circle cx="178.50" cy="374.60" r="1.80" fill="#229a22"/>
<path d="M66.50 356.80 L98.50 353.90 L114.50 353.40 L130.50 354.20 L146.50 355.90 L162.50 357.90 L178.50 361.00" fill="none" stroke="#7660d4" stroke-width="0.9" stroke-dasharray="6.5 3"/>
<path d="M66.50 354.70 L68.60 358.50 L64.40 358.50 Z" fill="#4628c4"/>
<path d="M98.50 351.80 L100.60 355.60 L96.40 355.60 Z" fill="#4628c4"/>
<path d="M114.50 351.30 L116.60 355.10 L112.40 355.10 Z" fill="#4628c4"/>
<path d="M130.50 352.10 L132.60 355.90 L128.40 355.90 Z" fill="#4628c4"/>
<path d="M146.50 353.80 L148.60 357.60 L144.40 357.60 Z" fill="#4628c4"/>
<path d="M162.50 355.80 L164.60 359.60 L160.40 359.60 Z" fill="#4628c4"/>
<path d="M178.50 358.90 L180.60 362.70 L176.40 362.70 Z" fill="#4628c4"/>
<path d="M66.50 329.80 L98.50 341.90 L114.50 346.20 L130.50 342.50 L146.50 339.60 L162.50 335.60 L178.50 336.70" fill="none" stroke="#d45050" stroke-width="0.9" stroke-dasharray="1.5 1.5"/>
<rect x="65.10" y="328.40" width="2.80" height="2.80" fill="#f4d8d0" stroke="#c42a22" stroke-width="0.8"/>
<path d="M65.10 331.20 L67.90 328.40 L67.90 331.20 Z" fill="#c42a22"/>
<rect x="97.10" y="340.50" width="2.80" height="2.80" fill="#f4d8d0" stroke="#c42a22" stroke-width="0.8"/>
<path d="M97.10 343.30 L99.90 340.50 L99.90 343.30 Z" fill="#c42a22"/>
<rect x="113.10" y="344.80" width="2.80" height="2.80" fill="#f4d8d0" stroke="#c42a22" stroke-width="0.8"/>
<path d="M113.10 347.60 L115.90 344.80 L115.90 347.60 Z" fill="#c42a22"/>
<rect x="129.10" y="341.10" width="2.80" height="2.80" fill="#f4d8d0" stroke="#c42a22" stroke-width="0.8"/>
<path d="M129.10 343.90 L131.90 341.10 L131.90 343.90 Z" fill="#c42a22"/>
<rect x="145.10" y="338.20" width="2.80" height="2.80" fill="#f4d8d0" stroke="#c42a22" stroke-width="0.8"/>
<path d="M145.10 341.00 L147.90 338.20 L147.90 341.00 Z" fill="#c42a22"/>
<rect x="161.10" y="334.20" width="2.80" height="2.80" fill="#f4d8d0" stroke="#c42a22" stroke-width="0.8"/>
<path d="M161.10 337.00 L163.90 334.20 L163.90 337.00 Z" fill="#c42a22"/>
<rect x="177.10" y="335.30" width="2.80" height="2.80" fill="#f4d8d0" stroke="#c42a22" stroke-width="0.8"/>
<path d="M177.10 338.10 L179.90 335.30 L179.90 338.10 Z" fill="#c42a22"/>
<path d="M66.50 336.10 L98.50 334.70 L114.50 337.60 L130.50 346.50 L146.50 350.60 L162.50 353.60 L178.50 357.10" fill="none" stroke="#3636e6" stroke-width="0.9"/>
<rect x="64.70" y="334.30" width="3.60" height="3.60" fill="#1818d8"/>
<rect x="96.70" y="332.90" width="3.60" height="3.60" fill="#1818d8"/>
<rect x="112.70" y="335.80" width="3.60" height="3.60" fill="#1818d8"/>
<rect x="128.70" y="344.70" width="3.60" height="3.60" fill="#1818d8"/>
<rect x="144.70" y="348.80" width="3.60" height="3.60" fill="#1818d8"/>
<rect x="160.70" y="351.80" width="3.60" height="3.60" fill="#1818d8"/>
<rect x="176.70" y="355.30" width="3.60" height="3.60" fill="#1818d8"/>
<rect x="114.00" y="294.30" width="80.60" height="30.20" fill="#fff" stroke="#3a3a3a" stroke-width="1"/>
<text x="114.40" y="302.30" font-size="6.2" font-weight="bold" text-anchor="end" stroke="#000" stroke-width="0.25" font-family="Liberation Sans, sans-serif">200%</text>
<text x="114.40" y="309.40" font-size="6.2" font-weight="bold" text-anchor="end" stroke="#000" stroke-width="0.25" font-family="Liberation Sans, sans-serif">150%</text>
<text x="114.40" y="316.40" font-size="6.2" font-weight="bold" text-anchor="end" stroke="#000" stroke-width="0.25" font-family="Liberation Sans, sans-serif">100%</text>
<text x="114.40" y="323.50" font-size="6.2" font-weight="bold" text-anchor="end" stroke="#000" stroke-width="0.25" font-family="Liberation Sans, sans-serif">50%</text>
<text x="112.20" y="330.20" font-size="6.2" font-weight="bold" text-anchor="end" stroke="#000" stroke-width="0.25" font-family="Liberation Sans, sans-serif">0%</text>
<line x1="114.00" y1="300.10" x2="115.60" y2="300.10" stroke="#222" stroke-width="0.8"/>
<line x1="114.00" y1="307.20" x2="115.60" y2="307.20" stroke="#222" stroke-width="0.8"/>
<line x1="114.00" y1="314.20" x2="115.60" y2="314.20" stroke="#222" stroke-width="0.8"/>
<line x1="114.00" y1="321.30" x2="115.60" y2="321.30" stroke="#222" stroke-width="0.8"/>
<text x="121.50" y="331.30" font-size="6.9" font-weight="bold" textLength="68.6" lengthAdjust="spacingAndGlyphs" font-family="Liberation Sans, sans-serif">D0D1D2D3D4D5D6D7</text>
<path d="M121.90 310.60 L140.02 306.20 L149.08 305.60 L158.14 307.20 L167.20 309.80 L176.26 312.80 L185.32 316.70" fill="none" stroke="#5a30d8" stroke-width="0.8" stroke-dasharray="6.5 3"/>
<circle cx="121.90" cy="310.60" r="0.7" fill="#5a30d8"/>
<circle cx="140.02" cy="306.20" r="0.7" fill="#5a30d8"/>
<circle cx="149.08" cy="305.60" r="0.7" fill="#5a30d8"/>
<circle cx="158.14" cy="307.20" r="0.7" fill="#5a30d8"/>
<circle cx="167.20" cy="309.80" r="0.7" fill="#5a30d8"/>
<circle cx="176.26" cy="312.80" r="0.7" fill="#5a30d8"/>
<circle cx="185.32" cy="316.70" r="0.7" fill="#5a30d8"/>
<path d="M121.90 310.60 L140.02 308.20 L149.08 312.80 L158.14 320.30 L167.20 322.30 L176.26 322.90 L185.32 323.30" fill="none" stroke="#1a22d8" stroke-width="0.8"/>
<circle cx="121.90" cy="310.60" r="0.7" fill="#1a22d8"/>
<circle cx="140.02" cy="308.20" r="0.7" fill="#1a22d8"/>
<circle cx="149.08" cy="312.80" r="0.7" fill="#1a22d8"/>
<circle cx="158.14" cy="320.30" r="0.7" fill="#1a22d8"/>
<circle cx="167.20" cy="322.30" r="0.7" fill="#1a22d8"/>
<circle cx="176.26" cy="322.90" r="0.7" fill="#1a22d8"/>
<circle cx="185.32" cy="323.30" r="0.7" fill="#1a22d8"/>
<path d="M121.90 310.60 L140.02 320.30 L149.08 321.90 L158.14 322.60 L167.20 323.00 L176.26 323.20 L185.32 323.30" fill="none" stroke="#2a9a2a" stroke-width="0.8" stroke-dasharray="3.4 2.2"/>
<circle cx="121.90" cy="310.60" r="0.7" fill="#2a9a2a"/>
<circle cx="140.02" cy="320.30" r="0.7" fill="#2a9a2a"/>
<circle cx="149.08" cy="321.90" r="0.7" fill="#2a9a2a"/>
<circle cx="158.14" cy="322.60" r="0.7" fill="#2a9a2a"/>
<circle cx="167.20" cy="323.00" r="0.7" fill="#2a9a2a"/>
<circle cx="176.26" cy="323.20" r="0.7" fill="#2a9a2a"/>
<circle cx="185.32" cy="323.30" r="0.7" fill="#2a9a2a"/>
<path d="M121.90 310.60 L140.02 320.70 L149.08 321.90 L158.14 320.30 L167.20 319.30 L176.26 316.70 L185.32 317.30" fill="none" stroke="#c42a22" stroke-width="0.8" stroke-dasharray="1.5 1.5"/>
<circle cx="121.90" cy="310.60" r="0.7" fill="#c42a22"/>
<circle cx="140.02" cy="320.70" r="0.7" fill="#c42a22"/>
<circle cx="149.08" cy="321.90" r="0.7" fill="#c42a22"/>
<circle cx="158.14" cy="320.30" r="0.7" fill="#c42a22"/>
<circle cx="167.20" cy="319.30" r="0.7" fill="#c42a22"/>
<circle cx="176.26" cy="316.70" r="0.7" fill="#c42a22"/>
<circle cx="185.32" cy="317.30" r="0.7" fill="#c42a22"/>
<line x1="161" y1="384.60" x2="175.8" y2="384.60" stroke="#3636e6" stroke-width="0.9"/>
<rect x="166.15" y="382.45" width="4.30" height="4.30" fill="#1818d8"/>
<text x="177.9" y="386.70" font-size="6" fill="#1a22d8" font-family="Liberation Sans, sans-serif">CD34</text>
<line x1="161" y1="390.40" x2="175.8" y2="390.40" stroke="#58a458" stroke-width="0.9" stroke-dasharray="3.4 2.2"/>
<circle cx="168.30" cy="390.40" r="1.90" fill="#229a22"/>
<text x="177.9" y="392.50" font-size="6" fill="#2a9a2a" font-family="Liberation Sans, sans-serif">Flt3</text>
<line x1="161" y1="396.30" x2="175.8" y2="396.30" stroke="#7660d4" stroke-width="0.9" stroke-dasharray="6.5 3"/>
<path d="M168.30 393.85 L170.75 398.35 L165.85 398.35 Z" fill="#4628c4"/>
<text x="177.9" y="398.40" font-size="6" fill="#5a30d8" font-family="Liberation Sans, sans-serif">Kit</text>
<line x1="161" y1="402.10" x2="175.8" y2="402.10" stroke="#d45050" stroke-width="0.9" stroke-dasharray="1.5 1.5"/>
<rect x="166.55" y="400.35" width="3.50" height="3.50" fill="#f4d8d0" stroke="#c42a22" stroke-width="0.8"/>
<path d="M166.55 403.85 L170.05 400.35 L170.05 403.85 Z" fill="#c42a22"/>
<text x="177.9" y="404.20" font-size="6" fill="#c42a22" font-family="Liberation Sans, sans-serif">Sca1</text>
<path d="M228.00 372.80 L260.00 346.20 L276.00 333.30 L292.00 324.60 L308.00 333.30 L324.00 335.30 L340.00 331.20" fill="none" stroke="#7660d4" stroke-width="0.9" stroke-dasharray="6.5 3"/>
<path d="M228.00 374.90 L230.10 371.10 L225.90 371.10 Z" fill="#4628c4"/>
<path d="M260.00 348.30 L262.10 344.50 L257.90 344.50 Z" fill="#4628c4"/>
<path d="M276.00 335.40 L278.10 331.60 L273.90 331.60 Z" fill="#4628c4"/>
<path d="M292.00 326.70 L294.10 322.90 L289.90 322.90 Z" fill="#4628c4"/>
<path d="M308.00 335.40 L310.10 331.60 L305.90 331.60 Z" fill="#4628c4"/>
<path d="M324.00 337.40 L326.10 333.60 L321.90 333.60 Z" fill="#4628c4"/>
<path d="M340.00 333.30 L342.10 329.50 L337.90 329.50 Z" fill="#4628c4"/>
<path d="M228.00 341.10 L260.00 314.50 L276.00 318.00 L292.00 317.40 L308.00 320.30 L324.00 318.80 L340.00 320.30" fill="none" stroke="#cc4a4a" stroke-width="0.9" stroke-dasharray="1.5 1.5"/>
<path d="M228.00 338.90 L230.20 341.10 L228.00 343.30 L225.80 341.10 Z" fill="#a81616"/>
<path d="M260.00 312.30 L262.20 314.50 L260.00 316.70 L257.80 314.50 Z" fill="#a81616"/>
<path d="M276.00 315.80 L278.20 318.00 L276.00 320.20 L273.80 318.00 Z" fill="#a81616"/>
<path d="M292.00 315.20 L294.20 317.40 L292.00 319.60 L289.80 317.40 Z" fill="#a81616"/>
<path d="M308.00 318.10 L310.20 320.30 L308.00 322.50 L305.80 320.30 Z" fill="#a81616"/>
<path d="M324.00 316.60 L326.20 318.80 L324.00 321.00 L321.80 318.80 Z" fill="#a81616"/>
<path d="M340.00 318.10 L342.20 320.30 L340.00 322.50 L337.80 320.30 Z" fill="#a81616"/>
<path d="M228.00 355.80 L260.00 316.80 L276.00 314.50 L292.00 313.70 L308.00 316.50 L324.00 314.50 L340.00 316.50" fill="none" stroke="#3636e6" stroke-width="0.9"/>
<circle cx="228.00" cy="355.80" r="1.80" fill="#1818d8"/>
<circle cx="260.00" cy="316.80" r="1.80" fill="#1818d8"/>
<circle cx="276.00" cy="314.50" r="1.80" fill="#1818d8"/>
<circle cx="292.00" cy="313.70" r="1.80" fill="#1818d8"/>
<circle cx="308.00" cy="316.50" r="1.80" fill="#1818d8"/>
<circle cx="324.00" cy="314.50" r="1.80" fill="#1818d8"/>
<circle cx="340.00" cy="316.50" r="1.80" fill="#1818d8"/>
<path d="M228.00 356.90 L260.00 311.60 L276.00 314.50 L292.00 313.10 L308.00 316.00 L324.00 314.50 L340.00 316.00" fill="none" stroke="#58a458" stroke-width="0.9" stroke-dasharray="3.4 2.2"/>
<path d="M229.80 354.80 L230.10 358.70 L225.90 358.70 Z" fill="#1a7a5a"/>
<path d="M261.80 309.50 L262.10 313.40 L257.90 313.40 Z" fill="#1a7a5a"/>
<path d="M277.80 312.40 L278.10 316.30 L273.90 316.30 Z" fill="#1a7a5a"/>
<path d="M293.80 311.00 L294.10 314.90 L289.90 314.90 Z" fill="#1a7a5a"/>
<path d="M309.80 313.90 L310.10 317.80 L305.90 317.80 Z" fill="#1a7a5a"/>
<path d="M325.80 312.40 L326.10 316.30 L321.90 316.30 Z" fill="#1a7a5a"/>
<path d="M341.80 313.90 L342.10 317.80 L337.90 317.80 Z" fill="#1a7a5a"/>
<line x1="323.5" y1="384.60" x2="338.8" y2="384.60" stroke="#3636e6" stroke-width="0.9"/>
<circle cx="331.20" cy="384.60" r="1.90" fill="#1818d8"/>
<text x="339.9" y="386.70" font-size="6" fill="#1a22d8" font-family="Liberation Sans, sans-serif">Ctsg</text>
<line x1="323.5" y1="390.40" x2="338.8" y2="390.40" stroke="#58a458" stroke-width="0.9" stroke-dasharray="3.4 2.2"/>
<path d="M333.35 387.95 L333.65 392.55 L328.75 392.55 Z" fill="#1a7a5a"/>
<text x="339.9" y="392.50" font-size="6" fill="#2a9a2a" font-family="Liberation Sans, sans-serif">Mpo</text>
<line x1="323.5" y1="396.30" x2="338.8" y2="396.30" stroke="#7660d4" stroke-width="0.9" stroke-dasharray="6.5 3"/>
<path d="M331.20 398.75 L333.65 394.25 L328.75 394.25 Z" fill="#4628c4"/>
<text x="339.9" y="398.40" font-size="6" fill="#5a30d8" font-family="Liberation Sans, sans-serif">NE</text>
<line x1="323.5" y1="402.10" x2="338.8" y2="402.10" stroke="#cc4a4a" stroke-width="0.9" stroke-dasharray="1.5 1.5"/>
<path d="M331.20 399.80 L333.50 402.10 L331.20 404.40 L328.90 402.10 Z" fill="#a81616"/>
<text x="339.9" y="404.20" font-size="6" fill="#a01818" font-family="Liberation Sans, sans-serif">Prtn3</text>
<path d="M389.80 354.00 L421.80 350.00 L437.80 336.10 L453.80 321.20 L469.80 318.30 L485.80 315.10 L501.80 316.00" fill="none" stroke="#7660d4" stroke-width="0.9" stroke-dasharray="6.5 3"/>
<circle cx="389.80" cy="354.00" r="1.80" fill="#4628c4"/>
<circle cx="421.80" cy="350.00" r="1.80" fill="#4628c4"/>
<circle cx="437.80" cy="336.10" r="1.80" fill="#4628c4"/>
<circle cx="453.80" cy="321.20" r="1.80" fill="#4628c4"/>
<circle cx="469.80" cy="318.30" r="1.80" fill="#4628c4"/>
<circle cx="485.80" cy="315.10" r="1.80" fill="#4628c4"/>
<circle cx="501.80" cy="316.00" r="1.80" fill="#4628c4"/>
<path d="M389.80 374.20 L421.80 397.30 L437.80 387.50 L453.80 375.10 L469.80 344.80 L485.80 328.90 L501.80 322.30" fill="none" stroke="#cc4a4a" stroke-width="0.9" stroke-dasharray="1.5 1.5"/>
<path d="M389.80 372.10 L391.90 375.90 L387.70 375.90 Z" fill="#a81616"/>
<path d="M421.80 395.20 L423.90 399.00 L419.70 399.00 Z" fill="#a81616"/>
<path d="M437.80 385.40 L439.90 389.20 L435.70 389.20 Z" fill="#a81616"/>
<path d="M453.80 373.00 L455.90 376.80 L451.70 376.80 Z" fill="#a81616"/>
<path d="M469.80 342.70 L471.90 346.50 L467.70 346.50 Z" fill="#a81616"/>
<path d="M485.80 326.80 L487.90 330.60 L483.70 330.60 Z" fill="#a81616"/>
<path d="M501.80 320.20 L503.90 324.00 L499.70 324.00 Z" fill="#a81616"/>
<path d="M389.80 373.60 L421.80 393.80 L437.80 398.70 L453.80 367.90 L469.80 343.90 L485.80 326.90 L501.80 325.20" fill="none" stroke="#58a458" stroke-width="0.9" stroke-dasharray="3.4 2.2"/>
<rect x="388.40" y="372.20" width="2.80" height="2.80" fill="#d8f0c8" stroke="#229a22" stroke-width="0.8"/>
<path d="M388.40 375.00 L391.20 372.20 L391.20 375.00 Z" fill="#229a22"/>
<rect x="420.40" y="392.40" width="2.80" height="2.80" fill="#d8f0c8" stroke="#229a22" stroke-width="0.8"/>
<path d="M420.40 395.20 L423.20 392.40 L423.20 395.20 Z" fill="#229a22"/>
<rect x="436.40" y="397.30" width="2.80" height="2.80" fill="#d8f0c8" stroke="#229a22" stroke-width="0.8"/>
<path d="M436.40 400.10 L439.20 397.30 L439.20 400.10 Z" fill="#229a22"/>
<rect x="452.40" y="366.50" width="2.80" height="2.80" fill="#d8f0c8" stroke="#229a22" stroke-width="0.8"/>
<path d="M452.40 369.30 L455.20 366.50 L455.20 369.30 Z" fill="#229a22"/>
<rect x="468.40" y="342.50" width="2.80" height="2.80" fill="#d8f0c8" stroke="#229a22" stroke-width="0.8"/>
<path d="M468.40 345.30 L471.20 342.50 L471.20 345.30 Z" fill="#229a22"/>
<rect x="484.40" y="325.50" width="2.80" height="2.80" fill="#d8f0c8" stroke="#229a22" stroke-width="0.8"/>
<path d="M484.40 328.30 L487.20 325.50 L487.20 328.30 Z" fill="#229a22"/>
<rect x="500.40" y="323.80" width="2.80" height="2.80" fill="#d8f0c8" stroke="#229a22" stroke-width="0.8"/>
<path d="M500.40 326.60 L503.20 323.80 L503.20 326.60 Z" fill="#229a22"/>
<path d="M389.80 379.40 L421.80 386.60 L437.80 381.70 L453.80 371.60 L469.80 357.20 L485.80 345.70 L501.80 342.80" fill="none" stroke="#3636e6" stroke-width="0.9"/>
<path d="M389.80 377.20 L392.00 379.40 L389.80 381.60 L387.60 379.40 Z" fill="#1818d8"/>
<path d="M421.80 384.40 L424.00 386.60 L421.80 388.80 L419.60 386.60 Z" fill="#1818d8"/>
<path d="M437.80 379.50 L440.00 381.70 L437.80 383.90 L435.60 381.70 Z" fill="#1818d8"/>
<path d="M453.80 369.40 L456.00 371.60 L453.80 373.80 L451.60 371.60 Z" fill="#1818d8"/>
<path d="M469.80 355.00 L472.00 357.20 L469.80 359.40 L467.60 357.20 Z" fill="#1818d8"/>
<path d="M485.80 343.50 L488.00 345.70 L485.80 347.90 L483.60 345.70 Z" fill="#1818d8"/>
<path d="M501.80 340.60 L504.00 342.80 L501.80 345.00 L499.60 342.80 Z" fill="#1818d8"/>
<line x1="481" y1="384.60" x2="495.5" y2="384.60" stroke="#3636e6" stroke-width="0.9"/>
<path d="M488.30 381.60 L491.30 384.60 L488.30 387.60 L485.30 384.60 Z" fill="#1818d8"/>
<text x="497.9" y="386.70" font-size="6" fill="#1a22d8" font-family="Liberation Sans, sans-serif">CD11b</text>
<line x1="481" y1="390.40" x2="495.5" y2="390.40" stroke="#58a458" stroke-width="0.9" stroke-dasharray="3.4 2.2"/>
<rect x="486.55" y="388.65" width="3.50" height="3.50" fill="#d8f0c8" stroke="#229a22" stroke-width="0.8"/>
<path d="M486.55 392.15 L490.05 388.65 L490.05 392.15 Z" fill="#229a22"/>
<text x="497.9" y="392.50" font-size="6" fill="#2a9a2a" font-family="Liberation Sans, sans-serif">Fpr1</text>
<line x1="481" y1="396.30" x2="495.5" y2="396.30" stroke="#7660d4" stroke-width="0.9" stroke-dasharray="6.5 3"/>
<circle cx="488.30" cy="396.30" r="1.90" fill="#4628c4"/>
<text x="497.9" y="398.40" font-size="6" fill="#5a30d8" font-family="Liberation Sans, sans-serif">Lyzs</text>
<line x1="481" y1="402.10" x2="495.5" y2="402.10" stroke="#cc4a4a" stroke-width="0.9" stroke-dasharray="1.5 1.5"/>
<path d="M488.30 399.65 L490.75 404.15 L485.85 404.15 Z" fill="#a81616"/>
<text x="497.9" y="404.20" font-size="6" fill="#a01818" font-family="Liberation Sans, sans-serif">Mmp9</text>
</svg></body></html>
